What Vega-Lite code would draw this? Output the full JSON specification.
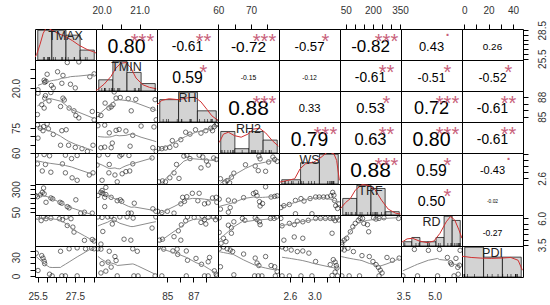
{
"$schema":"https://vega.github.io/schema/vega-lite/v6.json",
"background":"white",
"padding":{"left":10,"top":4,"right":2,"bottom":2},
"columns":8,"spacing":0,"bounds":"flush",
"datasets":{
"cor":[
{"id":"TMAX-TMIN","r":0.80,"txt":"0.80","sig":"***"},
{"id":"TMAX-RH","r":-0.61,"txt":"-0.61","sig":"**"},
{"id":"TMAX-RH2","r":-0.72,"txt":"-0.72","sig":"***"},
{"id":"TMAX-WS","r":-0.57,"txt":"-0.57","sig":"*"},
{"id":"TMAX-TRF","r":-0.82,"txt":"-0.82","sig":"***"},
{"id":"TMAX-RD","r":0.43,"txt":"0.43","sig":"."},
{"id":"TMAX-PDI","r":0.26,"txt":"0.26","sig":""},
{"id":"TMIN-RH","r":0.59,"txt":"0.59","sig":"*"},
{"id":"TMIN-RH2","r":-0.15,"txt":"-0.15","sig":""},
{"id":"TMIN-WS","r":-0.12,"txt":"-0.12","sig":""},
{"id":"TMIN-TRF","r":-0.61,"txt":"-0.61","sig":"**"},
{"id":"TMIN-RD","r":-0.51,"txt":"-0.51","sig":"*"},
{"id":"TMIN-PDI","r":-0.52,"txt":"-0.52","sig":"*"},
{"id":"RH-RH2","r":0.88,"txt":"0.88","sig":"***"},
{"id":"RH-WS","r":0.33,"txt":"0.33","sig":""},
{"id":"RH-TRF","r":0.53,"txt":"0.53","sig":"*"},
{"id":"RH-RD","r":0.72,"txt":"0.72","sig":"***"},
{"id":"RH-PDI","r":-0.61,"txt":"-0.61","sig":"**"},
{"id":"RH2-WS","r":0.79,"txt":"0.79","sig":"***"},
{"id":"RH2-TRF","r":0.63,"txt":"0.63","sig":"**"},
{"id":"RH2-RD","r":0.80,"txt":"0.80","sig":"***"},
{"id":"RH2-PDI","r":-0.61,"txt":"-0.61","sig":"**"},
{"id":"WS-TRF","r":0.88,"txt":"0.88","sig":"***"},
{"id":"WS-RD","r":0.59,"txt":"0.59","sig":"*"},
{"id":"WS-PDI","r":-0.43,"txt":"-0.43","sig":"."},
{"id":"TRF-RD","r":0.50,"txt":"0.50","sig":"*"},
{"id":"TRF-PDI","r":-0.02,"txt":"-0.02","sig":""},
{"id":"RD-PDI","r":-0.27,"txt":"-0.27","sig":""}
],
"hist":[
{"v":"TMAX","b0":25,"b1":26,"c":6},{"v":"TMAX","b0":26,"b1":27,"c":6},{"v":"TMAX","b0":27,"b1":28,"c":5},{"v":"TMAX","b0":28,"b1":29,"c":2},
{"v":"TMIN","b0":19.8,"b1":20.2,"c":3},{"v":"TMIN","b0":20.2,"b1":20.6,"c":8},{"v":"TMIN","b0":20.6,"b1":21.0,"c":5},{"v":"TMIN","b0":21.0,"b1":21.4,"c":2},
{"v":"RH","b0":84,"b1":85.5,"c":6},{"v":"RH","b0":85.5,"b1":87,"c":8},{"v":"RH","b0":87,"b1":88.5,"c":3},
{"v":"RH2","b0":60,"b1":65,"c":5},{"v":"RH2","b0":65,"b1":70,"c":1},{"v":"RH2","b0":70,"b1":75,"c":5},{"v":"RH2","b0":75,"b1":80,"c":3},
{"v":"WS","b0":2.4,"b1":2.75,"c":1},{"v":"WS","b0":2.75,"b1":3.1,"c":5},{"v":"WS","b0":3.1,"b1":3.45,"c":7},
{"v":"TRF","b0":0,"b1":100,"c":5},{"v":"TRF","b0":100,"b1":200,"c":9},{"v":"TRF","b0":200,"b1":300,"c":8},{"v":"TRF","b0":300,"b1":400,"c":1},
{"v":"RD","b0":3.4,"b1":3.8,"c":1},{"v":"RD","b0":3.8,"b1":4.2,"c":2},{"v":"RD","b0":4.2,"b1":4.6,"c":1},{"v":"RD","b0":4.6,"b1":5.0,"c":1},{"v":"RD","b0":5.0,"b1":5.4,"c":2},{"v":"RD","b0":5.4,"b1":5.8,"c":7},{"v":"RD","b0":5.8,"b1":6.2,"c":6},
{"v":"PDI","b0":0,"b1":16,"c":9},{"v":"PDI","b0":16,"b1":32,"c":6},{"v":"PDI","b0":32,"b1":48,"c":6}
],
"dens":[
{"v":"TMAX","x":24.84,"y":0.6},{"v":"TMAX","x":24.96,"y":1.12},{"v":"TMAX","x":25.19,"y":3.09},{"v":"TMAX","x":25.42,"y":5.37},{"v":"TMAX","x":25.65,"y":6.6},{"v":"TMAX","x":26.0,"y":6.04},{"v":"TMAX","x":26.46,"y":5.37},{"v":"TMAX","x":26.99,"y":4.72},{"v":"TMAX","x":27.5,"y":3.88},{"v":"TMAX","x":27.97,"y":2.95},{"v":"TMAX","x":28.54,"y":2.1},{"v":"TMAX","x":29.0,"y":1.63},{"v":"TMAX","x":29.16,"y":1.4},
{"v":"TMIN","x":19.736,"y":0.2},{"v":"TMIN","x":19.78,"y":0.36},{"v":"TMIN","x":19.97,"y":1.87},{"v":"TMIN","x":20.16,"y":3.91},{"v":"TMIN","x":20.30,"y":6.13},{"v":"TMIN","x":20.44,"y":7.47},{"v":"TMIN","x":20.59,"y":7.64},{"v":"TMIN","x":20.73,"y":6.13},{"v":"TMIN","x":20.87,"y":3.47},{"v":"TMIN","x":21.06,"y":1.69},{"v":"TMIN","x":21.25,"y":0.98},{"v":"TMIN","x":21.44,"y":0.62},
{"v":"RH","x":83.82,"y":4.58},{"v":"RH","x":84.21,"y":5.82},{"v":"RH","x":84.79,"y":6.24},{"v":"RH","x":85.52,"y":5.99},{"v":"RH","x":86.25,"y":6.49},{"v":"RH","x":86.83,"y":6.66},{"v":"RH","x":87.32,"y":5.41},{"v":"RH","x":87.81,"y":3.33},{"v":"RH","x":88.19,"y":1.66},{"v":"RH","x":88.68,"y":0.42},
{"v":"RH2","x":59.63,"y":2.45},{"v":"RH2","x":61.14,"y":4.39},{"v":"RH2","x":62.87,"y":4.82},{"v":"RH2","x":65.03,"y":4.03},{"v":"RH2","x":67.41,"y":3.67},{"v":"RH2","x":69.78,"y":4.39},{"v":"RH2","x":71.73,"y":5.54},{"v":"RH2","x":73.89,"y":5.76},{"v":"RH2","x":76.05,"y":4.68},{"v":"RH2","x":78.42,"y":2.88},{"v":"RH2","x":80.58,"y":1.58},
{"v":"WS","x":2.37,"y":0.44},{"v":"WS","x":2.51,"y":0.80},{"v":"WS","x":2.65,"y":1.24},{"v":"WS","x":2.75,"y":3.57},{"v":"WS","x":2.85,"y":4.73},{"v":"WS","x":3.00,"y":5.10},{"v":"WS","x":3.14,"y":6.26},{"v":"WS","x":3.27,"y":7.64},{"v":"WS","x":3.38,"y":7.06},{"v":"WS","x":3.43,"y":5.53},{"v":"WS","x":3.48,"y":0.87},
{"v":"TRF","x":-11.7,"y":1.97},{"v":"TRF","x":22.9,"y":3.74},{"v":"TRF","x":57.4,"y":4.96},{"v":"TRF","x":92,"y":7.49},{"v":"TRF","x":139.5,"y":9.17},{"v":"TRF","x":182.7,"y":8.99},{"v":"TRF","x":230.2,"y":7.77},{"v":"TRF","x":277.8,"y":4.49},{"v":"TRF","x":325.3,"y":1.78},{"v":"TRF","x":377.1,"y":0.56},{"v":"TRF","x":411.7,"y":0.28},
{"v":"RD","x":3.32,"y":0.87},{"v":"RD","x":3.59,"y":1.67},{"v":"RD","x":3.86,"y":1.82},{"v":"RD","x":4.20,"y":1.16},{"v":"RD","x":4.59,"y":0.80},{"v":"RD","x":4.92,"y":1.16},{"v":"RD","x":5.22,"y":2.98},{"v":"RD","x":5.53,"y":5.68},{"v":"RD","x":5.74,"y":6.92},{"v":"RD","x":5.95,"y":6.12},{"v":"RD","x":6.16,"y":3.79},{"v":"RD","x":6.31,"y":1.82},
{"v":"PDI","x":-1.92,"y":6.27},{"v":"PDI","x":5.86,"y":5.90},{"v":"PDI","x":14.15,"y":5.71},{"v":"PDI","x":22.96,"y":5.62},{"v":"PDI","x":31.26,"y":5.71},{"v":"PDI","x":39.55,"y":5.90},{"v":"PDI","x":45.77,"y":5.05},{"v":"PDI","x":49.40,"y":2.06}
],
"pts":[
{"p":"TMIN-TMAX","x":25.52,"y":19.91},{"p":"TMIN-TMAX","x":25.85,"y":20.41},{"p":"TMIN-TMAX","x":25.88,"y":20.30},{"p":"TMIN-TMAX","x":25.95,"y":20.35},{"p":"TMIN-TMAX","x":26.01,"y":20.72},{"p":"TMIN-TMAX","x":26.24,"y":20.14},{"p":"TMIN-TMAX","x":26.34,"y":20.01},{"p":"TMIN-TMAX","x":26.57,"y":20.85},{"p":"TMIN-TMAX","x":26.80,"y":20.25},{"p":"TMIN-TMAX","x":26.86,"y":20.66},{"p":"TMIN-TMAX","x":27.09,"y":21.33},{"p":"TMIN-TMAX","x":27.26,"y":20.20},{"p":"TMIN-TMAX","x":27.52,"y":20.01},{"p":"TMIN-TMAX","x":27.71,"y":21.36},{"p":"TMIN-TMAX","x":28.30,"y":20.59},{"p":"TMIN-TMAX","x":28.53,"y":20.74},
{"p":"RH-TMAX","x":25.52,"y":88.55},{"p":"RH-TMAX","x":25.92,"y":88.18},{"p":"RH-TMAX","x":26.21,"y":88.65},{"p":"RH-TMAX","x":25.88,"y":87.81},{"p":"RH-TMAX","x":26.11,"y":87.39},{"p":"RH-TMAX","x":25.72,"y":86.83},{"p":"RH-TMAX","x":25.85,"y":86.32},{"p":"RH-TMAX","x":26.86,"y":87.81},{"p":"RH-TMAX","x":26.93,"y":87.53},{"p":"RH-TMAX","x":26.73,"y":86.55},{"p":"RH-TMAX","x":27.19,"y":86.32},{"p":"RH-TMAX","x":27.45,"y":85.90},{"p":"RH-TMAX","x":27.55,"y":85.20},{"p":"RH-TMAX","x":27.71,"y":84.83},{"p":"RH-TMAX","x":28.43,"y":85.80},{"p":"RH-TMAX","x":25.49,"y":85.34},{"p":"RH-TMAX","x":28.53,"y":84.55},
{"p":"RH2-TMAX","x":25.49,"y":76.92},{"p":"RH2-TMAX","x":25.65,"y":74.86},{"p":"RH2-TMAX","x":26.01,"y":77.48},{"p":"RH2-TMAX","x":25.79,"y":73.36},{"p":"RH2-TMAX","x":26.08,"y":74.49},{"p":"RH2-TMAX","x":26.80,"y":73.36},{"p":"RH2-TMAX","x":27.03,"y":73.93},{"p":"RH2-TMAX","x":25.52,"y":68.88},{"p":"RH2-TMAX","x":26.73,"y":64.58},{"p":"RH2-TMAX","x":27.16,"y":64.58},{"p":"RH2-TMAX","x":27.52,"y":63.27},{"p":"RH2-TMAX","x":27.88,"y":62.52},{"p":"RH2-TMAX","x":28.17,"y":60.84},{"p":"RH2-TMAX","x":28.47,"y":64.58},{"p":"RH2-TMAX","x":26.34,"y":71.12},{"p":"RH2-TMAX","x":25.82,"y":75.80},
{"p":"WS-TMAX","x":25.43,"y":3.35},{"p":"WS-TMAX","x":25.85,"y":3.37},{"p":"WS-TMAX","x":26.14,"y":3.33},{"p":"WS-TMAX","x":26.99,"y":3.35},{"p":"WS-TMAX","x":27.62,"y":3.34},{"p":"WS-TMAX","x":27.32,"y":3.24},{"p":"WS-TMAX","x":25.49,"y":3.07},{"p":"WS-TMAX","x":25.92,"y":3.05},{"p":"WS-TMAX","x":25.75,"y":2.84},{"p":"WS-TMAX","x":26.21,"y":2.80},{"p":"WS-TMAX","x":26.83,"y":3.07},{"p":"WS-TMAX","x":26.99,"y":2.78},{"p":"WS-TMAX","x":27.35,"y":2.62},{"p":"WS-TMAX","x":27.62,"y":2.54},{"p":"WS-TMAX","x":28.27,"y":2.71},{"p":"WS-TMAX","x":28.47,"y":2.78},
{"p":"TRF-TMAX","x":25.49,"y":217.3},{"p":"TRF-TMAX","x":25.65,"y":237.5},{"p":"TRF-TMAX","x":25.75,"y":264.5},{"p":"TRF-TMAX","x":25.85,"y":247.7},{"p":"TRF-TMAX","x":25.82,"y":311.7},{"p":"TRF-TMAX","x":25.95,"y":156.7},{"p":"TRF-TMAX","x":26.21,"y":203.9},{"p":"TRF-TMAX","x":26.31,"y":193.7},{"p":"TRF-TMAX","x":26.70,"y":156.7},{"p":"TRF-TMAX","x":26.80,"y":146.6},{"p":"TRF-TMAX","x":27.09,"y":109.5},{"p":"TRF-TMAX","x":27.19,"y":96.0},{"p":"TRF-TMAX","x":27.55,"y":183.6},{"p":"TRF-TMAX","x":28.01,"y":48.8},{"p":"TRF-TMAX","x":28.43,"y":38.7},{"p":"TRF-TMAX","x":27.81,"y":38.7},{"p":"TRF-TMAX","x":25.39,"y":230.8},
{"p":"RD-TMAX","x":25.49,"y":6.11},{"p":"RD-TMAX","x":25.69,"y":5.78},{"p":"RD-TMAX","x":25.82,"y":6.16},{"p":"RD-TMAX","x":25.95,"y":5.96},{"p":"RD-TMAX","x":26.21,"y":6.02},{"p":"RD-TMAX","x":26.67,"y":5.96},{"p":"RD-TMAX","x":26.83,"y":5.87},{"p":"RD-TMAX","x":27.03,"y":6.11},{"p":"RD-TMAX","x":27.09,"y":5.32},{"p":"RD-TMAX","x":27.39,"y":5.17},{"p":"RD-TMAX","x":27.45,"y":4.70},{"p":"RD-TMAX","x":28.01,"y":3.92},{"p":"RD-TMAX","x":28.43,"y":4.00},{"p":"RD-TMAX","x":28.53,"y":3.86},{"p":"RD-TMAX","x":27.29,"y":5.96},
{"p":"PDI-TMAX","x":25.43,"y":36.7},{"p":"PDI-TMAX","x":25.72,"y":32.7},{"p":"PDI-TMAX","x":25.79,"y":28.7},{"p":"PDI-TMAX","x":25.85,"y":23.7},{"p":"PDI-TMAX","x":25.88,"y":19.7},{"p":"PDI-TMAX","x":25.52,"y":8.7},{"p":"PDI-TMAX","x":26.14,"y":2.7},{"p":"PDI-TMAX","x":26.73,"y":39.7},{"p":"PDI-TMAX","x":27.19,"y":43.7},{"p":"PDI-TMAX","x":27.62,"y":45.2},{"p":"PDI-TMAX","x":28.07,"y":43.7},{"p":"PDI-TMAX","x":28.40,"y":44.7},{"p":"PDI-TMAX","x":28.53,"y":43.7},{"p":"PDI-TMAX","x":26.28,"y":0},{"p":"PDI-TMAX","x":26.80,"y":0},{"p":"PDI-TMAX","x":26.99,"y":0},{"p":"PDI-TMAX","x":27.62,"y":0},
{"p":"RH-TMIN","x":19.90,"y":85.34},{"p":"RH-TMIN","x":19.98,"y":85.20},{"p":"RH-TMIN","x":20.19,"y":86.32},{"p":"RH-TMIN","x":20.25,"y":86.50},{"p":"RH-TMIN","x":20.30,"y":86.83},{"p":"RH-TMIN","x":20.38,"y":87.81},{"p":"RH-TMIN","x":20.49,"y":87.90},{"p":"RH-TMIN","x":20.70,"y":87.72},{"p":"RH-TMIN","x":20.90,"y":87.62},{"p":"RH-TMIN","x":20.78,"y":85.90},{"p":"RH-TMIN","x":21.35,"y":86.13},{"p":"RH-TMIN","x":21.41,"y":87.58},{"p":"RH-TMIN","x":21.44,"y":84.55},{"p":"RH-TMIN","x":20.09,"y":87.06},{"p":"RH-TMIN","x":20.33,"y":88.74},
{"p":"RH2-TMIN","x":19.90,"y":76.36},{"p":"RH2-TMIN","x":20.08,"y":76.73},{"p":"RH2-TMIN","x":20.20,"y":72.06},{"p":"RH2-TMIN","x":20.38,"y":73.55},{"p":"RH2-TMIN","x":20.46,"y":74.11},{"p":"RH2-TMIN","x":20.64,"y":73.18},{"p":"RH2-TMIN","x":20.82,"y":70.56},{"p":"RH2-TMIN","x":21.04,"y":76.17},{"p":"RH2-TMIN","x":21.38,"y":75.61},{"p":"RH2-TMIN","x":19.98,"y":63.08},{"p":"RH2-TMIN","x":20.08,"y":63.45},{"p":"RH2-TMIN","x":20.25,"y":63.08},{"p":"RH2-TMIN","x":20.75,"y":64.01},{"p":"RH2-TMIN","x":21.35,"y":63.08},{"p":"RH2-TMIN","x":20.28,"y":65.88},{"p":"RH2-TMIN","x":21.44,"y":60.84},
{"p":"WS-TMIN","x":19.93,"y":3.35},{"p":"WS-TMIN","x":20.16,"y":3.37},{"p":"WS-TMIN","x":20.48,"y":3.32},{"p":"WS-TMIN","x":20.53,"y":3.37},{"p":"WS-TMIN","x":20.72,"y":3.34},{"p":"WS-TMIN","x":21.33,"y":3.26},{"p":"WS-TMIN","x":19.88,"y":3.03},{"p":"WS-TMIN","x":20.20,"y":3.05},{"p":"WS-TMIN","x":20.19,"y":2.78},{"p":"WS-TMIN","x":20.35,"y":2.71},{"p":"WS-TMIN","x":20.54,"y":2.75},{"p":"WS-TMIN","x":20.64,"y":2.82},{"p":"WS-TMIN","x":20.74,"y":2.84},{"p":"WS-TMIN","x":20.41,"y":2.49},{"p":"WS-TMIN","x":20.01,"y":2.54},{"p":"WS-TMIN","x":20.82,"y":3.07},
{"p":"TRF-TMIN","x":19.90,"y":230.8},{"p":"TRF-TMIN","x":19.98,"y":264.5},{"p":"TRF-TMIN","x":20.01,"y":284.7},{"p":"TRF-TMIN","x":20.03,"y":254.4},{"p":"TRF-TMIN","x":20.08,"y":210.6},{"p":"TRF-TMIN","x":20.11,"y":240.9},{"p":"TRF-TMIN","x":20.25,"y":210.6},{"p":"TRF-TMIN","x":20.41,"y":173.5},{"p":"TRF-TMIN","x":20.49,"y":183.6},{"p":"TRF-TMIN","x":20.53,"y":166.8},{"p":"TRF-TMIN","x":20.86,"y":146.6},{"p":"TRF-TMIN","x":20.08,"y":109.5},{"p":"TRF-TMIN","x":20.70,"y":38.7},{"p":"TRF-TMIN","x":20.78,"y":38.7},{"p":"TRF-TMIN","x":21.35,"y":85.9},{"p":"TRF-TMIN","x":21.43,"y":59.0},{"p":"TRF-TMIN","x":20.11,"y":318.4},
{"p":"RD-TMIN","x":19.90,"y":6.13},{"p":"RD-TMIN","x":20.01,"y":6.08},{"p":"RD-TMIN","x":20.16,"y":6.13},{"p":"RD-TMIN","x":20.25,"y":6.19},{"p":"RD-TMIN","x":20.33,"y":5.87},{"p":"RD-TMIN","x":20.48,"y":6.13},{"p":"RD-TMIN","x":20.67,"y":6.13},{"p":"RD-TMIN","x":20.83,"y":6.02},{"p":"RD-TMIN","x":20.28,"y":5.46},{"p":"RD-TMIN","x":20.03,"y":4.76},{"p":"RD-TMIN","x":21.33,"y":5.08},{"p":"RD-TMIN","x":20.59,"y":4.03},{"p":"RD-TMIN","x":20.77,"y":3.94},{"p":"RD-TMIN","x":21.43,"y":6.13},{"p":"RD-TMIN","x":19.98,"y":3.57},
{"p":"PDI-TMIN","x":19.90,"y":43.7},{"p":"PDI-TMIN","x":19.98,"y":43.2},{"p":"PDI-TMIN","x":20.20,"y":39.7},{"p":"PDI-TMIN","x":20.35,"y":31.2},{"p":"PDI-TMIN","x":20.01,"y":19.7},{"p":"PDI-TMIN","x":20.17,"y":22.2},{"p":"PDI-TMIN","x":20.38,"y":24.7},{"p":"PDI-TMIN","x":20.25,"y":14.2},{"p":"PDI-TMIN","x":20.11,"y":7.7},{"p":"PDI-TMIN","x":20.82,"y":43.7},{"p":"PDI-TMIN","x":20.94,"y":39.7},{"p":"PDI-TMIN","x":20.41,"y":0},{"p":"PDI-TMIN","x":20.85,"y":0},{"p":"PDI-TMIN","x":20.96,"y":0},{"p":"PDI-TMIN","x":21.41,"y":0},{"p":"PDI-TMIN","x":19.98,"y":4.7},
{"p":"RH2-RH","x":84.31,"y":62.52},{"p":"RH2-RH","x":84.59,"y":62.52},{"p":"RH2-RH","x":84.87,"y":62.89},{"p":"RH2-RH","x":85.20,"y":63.27},{"p":"RH2-RH","x":85.66,"y":64.58},{"p":"RH2-RH","x":85.39,"y":67.38},{"p":"RH2-RH","x":86.04,"y":67.94},{"p":"RH2-RH","x":86.41,"y":72.43},{"p":"RH2-RH","x":86.74,"y":71.31},{"p":"RH2-RH","x":87.16,"y":73.93},{"p":"RH2-RH","x":87.58,"y":71.87},{"p":"RH2-RH","x":87.95,"y":73.36},{"p":"RH2-RH","x":88.32,"y":74.86},{"p":"RH2-RH","x":88.46,"y":73.36},{"p":"RH2-RH","x":88.60,"y":75.80},{"p":"RH2-RH","x":88.74,"y":76.92},{"p":"RH2-RH","x":88.83,"y":77.67},
{"p":"WS-RH","x":84.36,"y":2.49},{"p":"WS-RH","x":84.64,"y":2.52},{"p":"WS-RH","x":84.87,"y":2.49},{"p":"WS-RH","x":85.20,"y":2.62},{"p":"WS-RH","x":85.52,"y":2.78},{"p":"WS-RH","x":85.71,"y":3.05},{"p":"WS-RH","x":86.27,"y":3.32},{"p":"WS-RH","x":86.50,"y":3.35},{"p":"WS-RH","x":86.74,"y":3.24},{"p":"WS-RH","x":87.44,"y":3.35},{"p":"WS-RH","x":87.72,"y":3.29},{"p":"WS-RH","x":88.0,"y":3.16},{"p":"WS-RH","x":88.55,"y":3.26},{"p":"WS-RH","x":88.74,"y":3.21},{"p":"WS-RH","x":88.13,"y":3.03},{"p":"WS-RH","x":87.58,"y":2.94},{"p":"WS-RH","x":85.90,"y":2.60},
{"p":"TRF-RH","x":84.27,"y":59.0},{"p":"TRF-RH","x":84.59,"y":45.5},{"p":"TRF-RH","x":85.01,"y":59.0},{"p":"TRF-RH","x":85.52,"y":38.7},{"p":"TRF-RH","x":86.04,"y":139.8},{"p":"TRF-RH","x":86.18,"y":210.6},{"p":"TRF-RH","x":86.50,"y":217.3},{"p":"TRF-RH","x":86.32,"y":166.8},{"p":"TRF-RH","x":86.92,"y":254.4},{"p":"TRF-RH","x":87.44,"y":254.4},{"p":"TRF-RH","x":87.85,"y":139.8},{"p":"TRF-RH","x":88.13,"y":149.9},{"p":"TRF-RH","x":88.46,"y":203.9},{"p":"TRF-RH","x":88.74,"y":210.6},{"p":"TRF-RH","x":88.79,"y":156.7},{"p":"TRF-RH","x":87.34,"y":173.5},
{"p":"RD-RH","x":84.41,"y":3.94},{"p":"RD-RH","x":84.64,"y":4.03},{"p":"RD-RH","x":85.52,"y":4.27},{"p":"RD-RH","x":85.85,"y":4.82},{"p":"RD-RH","x":86.08,"y":5.38},{"p":"RD-RH","x":86.41,"y":5.76},{"p":"RD-RH","x":86.55,"y":6.13},{"p":"RD-RH","x":87.06,"y":6.08},{"p":"RD-RH","x":87.67,"y":6.19},{"p":"RD-RH","x":87.85,"y":5.87},{"p":"RD-RH","x":88.13,"y":6.08},{"p":"RD-RH","x":88.55,"y":6.13},{"p":"RD-RH","x":88.69,"y":5.87},{"p":"RD-RH","x":88.83,"y":6.13},{"p":"RD-RH","x":87.58,"y":5.61},{"p":"RD-RH","x":87.95,"y":5.46},{"p":"RD-RH","x":86.04,"y":3.94},
{"p":"PDI-RH","x":84.31,"y":45.7},{"p":"PDI-RH","x":84.73,"y":43.2},{"p":"PDI-RH","x":85.43,"y":40.2},{"p":"PDI-RH","x":85.76,"y":43.2},{"p":"PDI-RH","x":85.80,"y":34.7},{"p":"PDI-RH","x":86.46,"y":40.2},{"p":"PDI-RH","x":86.55,"y":25.2},{"p":"PDI-RH","x":87.20,"y":28.2},{"p":"PDI-RH","x":87.62,"y":18.7},{"p":"PDI-RH","x":88.13,"y":22.7},{"p":"PDI-RH","x":88.23,"y":29.7},{"p":"PDI-RH","x":88.60,"y":8.2},{"p":"PDI-RH","x":88.74,"y":2.7},{"p":"PDI-RH","x":84.59,"y":0},{"p":"PDI-RH","x":86.46,"y":0},{"p":"PDI-RH","x":87.85,"y":0},{"p":"PDI-RH","x":88.13,"y":0},{"p":"PDI-RH","x":88.79,"y":0},
{"p":"WS-RH2","x":60.65,"y":2.59},{"p":"WS-RH2","x":61.96,"y":2.48},{"p":"WS-RH2","x":62.71,"y":2.53},{"p":"WS-RH2","x":63.45,"y":2.46},{"p":"WS-RH2","x":64.01,"y":2.64},{"p":"WS-RH2","x":64.76,"y":2.77},{"p":"WS-RH2","x":68.32,"y":3.04},{"p":"WS-RH2","x":71.31,"y":3.00},{"p":"WS-RH2","x":72.24,"y":2.85},{"p":"WS-RH2","x":72.80,"y":3.23},{"p":"WS-RH2","x":74.49,"y":2.83},{"p":"WS-RH2","x":75.42,"y":3.13},{"p":"WS-RH2","x":76.73,"y":3.29},{"p":"WS-RH2","x":77.29,"y":3.21},{"p":"WS-RH2","x":78.04,"y":3.15},{"p":"WS-RH2","x":72.43,"y":3.32},
{"p":"TRF-RH2","x":60.27,"y":190.4},{"p":"TRF-RH2","x":60.65,"y":82.5},{"p":"TRF-RH2","x":63.08,"y":180.3},{"p":"TRF-RH2","x":64.95,"y":170.2},{"p":"TRF-RH2","x":63.64,"y":99.4},{"p":"TRF-RH2","x":63.08,"y":48.8},{"p":"TRF-RH2","x":67.75,"y":207.2},{"p":"TRF-RH2","x":70.75,"y":251.0},{"p":"TRF-RH2","x":71.49,"y":264.5},{"p":"TRF-RH2","x":71.87,"y":227.4},{"p":"TRF-RH2","x":72.62,"y":163.4},{"p":"TRF-RH2","x":73.55,"y":143.2},{"p":"TRF-RH2","x":72.80,"y":116.2},{"p":"TRF-RH2","x":74.49,"y":325.2},{"p":"TRF-RH2","x":76.17,"y":214.0},{"p":"TRF-RH2","x":77.29,"y":220.7},{"p":"TRF-RH2","x":78.04,"y":227.4},
{"p":"RD-RH2","x":60.27,"y":6.05},{"p":"RD-RH2","x":60.27,"y":4.67},{"p":"RD-RH2","x":61.58,"y":4.12},{"p":"RD-RH2","x":63.08,"y":5.35},{"p":"RD-RH2","x":64.01,"y":5.11},{"p":"RD-RH2","x":64.76,"y":5.67},{"p":"RD-RH2","x":67.38,"y":5.99},{"p":"RD-RH2","x":68.13,"y":5.81},{"p":"RD-RH2","x":71.31,"y":6.05},{"p":"RD-RH2","x":71.87,"y":5.87},{"p":"RD-RH2","x":72.62,"y":5.67},{"p":"RD-RH2","x":72.80,"y":5.40},{"p":"RD-RH2","x":75.98,"y":5.99},{"p":"RD-RH2","x":77.10,"y":5.99},{"p":"RD-RH2","x":77.85,"y":6.13},{"p":"RD-RH2","x":60.84,"y":3.65},{"p":"RD-RH2","x":62.33,"y":3.80},{"p":"RD-RH2","x":64.01,"y":4.59},
{"p":"PDI-RH2","x":60.27,"y":43.7},{"p":"PDI-RH2","x":61.58,"y":46.7},{"p":"PDI-RH2","x":62.71,"y":43.7},{"p":"PDI-RH2","x":63.64,"y":41.7},{"p":"PDI-RH2","x":64.39,"y":39.2},{"p":"PDI-RH2","x":67.75,"y":35.2},{"p":"PDI-RH2","x":71.31,"y":28.7},{"p":"PDI-RH2","x":71.87,"y":20.7},{"p":"PDI-RH2","x":72.43,"y":16.7},{"p":"PDI-RH2","x":74.49,"y":31.2},{"p":"PDI-RH2","x":76.17,"y":16.7},{"p":"PDI-RH2","x":77.29,"y":14.7},{"p":"PDI-RH2","x":78.04,"y":7.2},{"p":"PDI-RH2","x":60.65,"y":14.7},{"p":"PDI-RH2","x":64.76,"y":1.7},{"p":"PDI-RH2","x":71.12,"y":0},{"p":"PDI-RH2","x":72.24,"y":0},{"p":"PDI-RH2","x":73.36,"y":0},{"p":"PDI-RH2","x":77.48,"y":0},
{"p":"TRF-WS","x":2.45,"y":99.4},{"p":"TRF-WS","x":2.50,"y":119.6},{"p":"TRF-WS","x":2.59,"y":133.1},{"p":"TRF-WS","x":2.69,"y":176.9},{"p":"TRF-WS","x":2.78,"y":197.1},{"p":"TRF-WS","x":2.83,"y":170.2},{"p":"TRF-WS","x":2.93,"y":197.1},{"p":"TRF-WS","x":3.02,"y":214.0},{"p":"TRF-WS","x":3.08,"y":214.0},{"p":"TRF-WS","x":3.15,"y":214.0},{"p":"TRF-WS","x":3.21,"y":214.0},{"p":"TRF-WS","x":3.27,"y":227.4},{"p":"TRF-WS","x":3.30,"y":264.5},{"p":"TRF-WS","x":3.32,"y":234.2},{"p":"TRF-WS","x":3.33,"y":176.9},{"p":"TRF-WS","x":3.35,"y":119.6},{"p":"TRF-WS","x":3.38,"y":89.3},{"p":"TRF-WS","x":3.40,"y":139.8},{"p":"TRF-WS","x":2.96,"y":32.0},{"p":"TRF-WS","x":2.69,"y":32.0},
{"p":"RD-WS","x":2.45,"y":5.99},{"p":"RD-WS","x":2.47,"y":5.29},{"p":"RD-WS","x":2.59,"y":5.52},{"p":"RD-WS","x":2.67,"y":5.40},{"p":"RD-WS","x":2.72,"y":5.73},{"p":"RD-WS","x":2.81,"y":5.67},{"p":"RD-WS","x":2.90,"y":5.81},{"p":"RD-WS","x":3.02,"y":5.99},{"p":"RD-WS","x":3.10,"y":5.99},{"p":"RD-WS","x":3.18,"y":5.99},{"p":"RD-WS","x":3.26,"y":5.99},{"p":"RD-WS","x":3.31,"y":5.99},{"p":"RD-WS","x":3.34,"y":5.78},{"p":"RD-WS","x":3.37,"y":6.05},{"p":"RD-WS","x":3.40,"y":5.84},{"p":"RD-WS","x":2.67,"y":4.24},{"p":"RD-WS","x":2.81,"y":4.12},{"p":"RD-WS","x":3.29,"y":4.59},{"p":"RD-WS","x":2.50,"y":3.94},
{"p":"PDI-WS","x":2.47,"y":46.7},{"p":"PDI-WS","x":2.53,"y":43.7},{"p":"PDI-WS","x":2.62,"y":41.7},{"p":"PDI-WS","x":2.72,"y":39.2},{"p":"PDI-WS","x":2.81,"y":40.2},{"p":"PDI-WS","x":2.91,"y":36.7},{"p":"PDI-WS","x":3.02,"y":23.2},{"p":"PDI-WS","x":3.26,"y":18.2},{"p":"PDI-WS","x":3.31,"y":26.2},{"p":"PDI-WS","x":3.34,"y":22.2},{"p":"PDI-WS","x":3.36,"y":16.7},{"p":"PDI-WS","x":3.37,"y":12.7},{"p":"PDI-WS","x":3.34,"y":6.2},{"p":"PDI-WS","x":2.47,"y":0},{"p":"PDI-WS","x":2.59,"y":0},{"p":"PDI-WS","x":2.78,"y":0},{"p":"PDI-WS","x":2.96,"y":0},{"p":"PDI-WS","x":3.29,"y":0.7},{"p":"PDI-WS","x":3.38,"y":0},
{"p":"RD-TRF","x":28.6,"y":3.74},{"p":"RD-TRF","x":42.1,"y":3.94},{"p":"RD-TRF","x":55.6,"y":4.12},{"p":"RD-TRF","x":75.8,"y":4.73},{"p":"RD-TRF","x":89.3,"y":5.20},{"p":"RD-TRF","x":102.8,"y":5.52},{"p":"RD-TRF","x":119.6,"y":5.81},{"p":"RD-TRF","x":129.7,"y":5.99},{"p":"RD-TRF","x":143.2,"y":5.99},{"p":"RD-TRF","x":149.9,"y":5.52},{"p":"RD-TRF","x":170.2,"y":5.40},{"p":"RD-TRF","x":203.9,"y":6.05},{"p":"RD-TRF","x":217.3,"y":5.93},{"p":"RD-TRF","x":234.2,"y":5.99},{"p":"RD-TRF","x":261.1,"y":6.05},{"p":"RD-TRF","x":342.0,"y":5.99},{"p":"RD-TRF","x":176.9,"y":4.73},{"p":"RD-TRF","x":28.6,"y":3.54},
{"p":"PDI-TRF","x":25.2,"y":43.7},{"p":"PDI-TRF","x":42.1,"y":41.7},{"p":"PDI-TRF","x":62.3,"y":44.7},{"p":"PDI-TRF","x":92.6,"y":39.2},{"p":"PDI-TRF","x":139.8,"y":32.7},{"p":"PDI-TRF","x":180.3,"y":31.2},{"p":"PDI-TRF","x":200.5,"y":23.2},{"p":"PDI-TRF","x":217.3,"y":18.2},{"p":"PDI-TRF","x":230.8,"y":13.7},{"p":"PDI-TRF","x":240.9,"y":9.2},{"p":"PDI-TRF","x":251.0,"y":4.7},{"p":"PDI-TRF","x":278.0,"y":29.7},{"p":"PDI-TRF","x":308.3,"y":25.2},{"p":"PDI-TRF","x":345.4,"y":28.7},{"p":"PDI-TRF","x":28.6,"y":0},{"p":"PDI-TRF","x":69.1,"y":0},{"p":"PDI-TRF","x":126.3,"y":0},{"p":"PDI-TRF","x":234.2,"y":0},
{"p":"PDI-RD","x":3.48,"y":0},{"p":"PDI-RD","x":4.03,"y":42.7},{"p":"PDI-RD","x":4.70,"y":41.2},{"p":"PDI-RD","x":5.23,"y":42.7},{"p":"PDI-RD","x":5.61,"y":29.7},{"p":"PDI-RD","x":5.76,"y":21.2},{"p":"PDI-RD","x":5.81,"y":18.7},{"p":"PDI-RD","x":6.02,"y":28.2},{"p":"PDI-RD","x":6.11,"y":13.7},{"p":"PDI-RD","x":6.19,"y":17.2},{"p":"PDI-RD","x":4.18,"y":0},{"p":"PDI-RD","x":5.14,"y":0},{"p":"PDI-RD","x":5.93,"y":0},{"p":"PDI-RD","x":6.13,"y":2.7},{"p":"PDI-RD","x":6.22,"y":41.2}
]
},
"concat":[
{"width":61,"height":31,"layer":[
 {"data":{"name":"hist"},"transform":[{"filter":"datum.v=='TMAX'"}],"mark":{"type":"bar","fill":"#d3d3d3","stroke":"black","strokeWidth":0.7,"binSpacing":0},"encoding":{"x":{"field":"b0","type":"quantitative","bin":"binned","scale":{"domain":[24.84,29.16],"nice":false,"zero":false},"axis":null},"x2":{"field":"b1"},"y":{"field":"c","type":"quantitative","scale":{"domain":[0,6.24],"nice":false},"axis":null}}},
 {"data":{"name":"dens"},"transform":[{"filter":"datum.v=='TMAX'"}],"mark":{"type":"line","color":"#d03030","strokeWidth":1,"clip":true},"encoding":{"x":{"field":"x","type":"quantitative","scale":{"domain":[24.84,29.16],"nice":false,"zero":false},"axis":null},"y":{"field":"y","type":"quantitative","scale":{"domain":[0,6.24],"nice":false},"axis":null}}},
 {"data":{"name":"pts"},"transform":[{"filter":"datum.p=='PDI-TMAX'"}],"mark":{"type":"tick","orient":"vertical","size":6,"thickness":0.8,"color":"black","clip":true},"encoding":{"x":{"field":"x","type":"quantitative","scale":{"domain":[24.84,29.16],"nice":false,"zero":false},"axis":null},"y":{"datum":0,"type":"quantitative","scale":{"domain":[0,6.24],"nice":false},"axis":null}}},
 {"data":{"values":[{"lab":"TMAX"}]},"mark":{"type":"text","fontSize":12.5,"dy":-9,"color":"#222"},"encoding":{"text":{"field":"lab"}}}]},
{"width":61,"height":31,"layer":[
 {"data":{"name":"pts"},"transform":[{"filter":"datum.p=='TMIN-TMAX'"}],"mark":{"type":"point","opacity":0},"encoding":{"x":{"field":"y","type":"quantitative","scale":{"domain":[19.85,21.46],"nice":false,"zero":false},"axis":{"orient":"top","title":null,"values":[20,20.5,21],"labelExpr":"datum.value==20?'20.0':datum.value==21?'21.0':''"}},"y":{"field":"x","type":"quantitative","scale":{"domain":[25.36,28.63],"nice":false,"zero":false},"axis":null}}},
 {"data":{"name":"cor"},"transform":[{"filter":"datum.id=='TMAX-TMIN'"},{"calculate":"34.5*(abs(datum.r)+0.3)/(datum.r<0?2.28:1.946)","as":"fs"}],"mark":{"type":"text","color":"black","dy":2},"encoding":{"text":{"field":"txt"},"size":{"field":"fs","type":"quantitative","scale":null}}},
 {"data":{"name":"cor"},"transform":[{"filter":"datum.id=='TMAX-TMIN' && datum.sig!='.'"}],"mark":{"type":"text","fontSize":20,"color":"#c8607a","dx":16,"dy":-3},"encoding":{"text":{"field":"sig"}}}]},
{"width":61,"height":31,"layer":[
 {"data":{"name":"pts"},"transform":[{"filter":"datum.p=='RH-TMAX'"}],"mark":{"type":"point","opacity":0},"encoding":{"x":{"field":"y","type":"quantitative","scale":{"domain":[84.22,88.88],"nice":false,"zero":false},"axis":null},"y":{"field":"x","type":"quantitative","scale":{"domain":[25.36,28.63],"nice":false,"zero":false},"axis":null}}},
 {"data":{"name":"cor"},"transform":[{"filter":"datum.id=='TMAX-RH'"},{"calculate":"34.5*(abs(datum.r)+0.3)/(datum.r<0?2.28:1.946)","as":"fs"}],"mark":{"type":"text","color":"black","dy":2},"encoding":{"text":{"field":"txt"},"size":{"field":"fs","type":"quantitative","scale":null}}},
 {"data":{"name":"cor"},"transform":[{"filter":"datum.id=='TMAX-RH' && datum.sig!='.'"}],"mark":{"type":"text","fontSize":20,"color":"#c8607a","dx":16,"dy":-3},"encoding":{"text":{"field":"sig"}}}]},
{"width":61,"height":31,"layer":[
 {"data":{"name":"pts"},"transform":[{"filter":"datum.p=='RH2-TMAX'"}],"mark":{"type":"point","opacity":0},"encoding":{"x":{"field":"y","type":"quantitative","scale":{"domain":[59.9,78.6],"nice":false,"zero":false},"axis":{"orient":"top","title":null,"values":[60,65,70,75],"labelExpr":"datum.value==60||datum.value==70?datum.label:''"}},"y":{"field":"x","type":"quantitative","scale":{"domain":[25.36,28.63],"nice":false,"zero":false},"axis":null}}},
 {"data":{"name":"cor"},"transform":[{"filter":"datum.id=='TMAX-RH2'"},{"calculate":"34.5*(abs(datum.r)+0.3)/(datum.r<0?2.28:1.946)","as":"fs"}],"mark":{"type":"text","color":"black","dy":2},"encoding":{"text":{"field":"txt"},"size":{"field":"fs","type":"quantitative","scale":null}}},
 {"data":{"name":"cor"},"transform":[{"filter":"datum.id=='TMAX-RH2' && datum.sig!='.'"}],"mark":{"type":"text","fontSize":20,"color":"#c8607a","dx":16,"dy":-3},"encoding":{"text":{"field":"sig"}}}]},
{"width":61,"height":31,"layer":[
 {"data":{"name":"pts"},"transform":[{"filter":"datum.p=='WS-TMAX'"}],"mark":{"type":"point","opacity":0},"encoding":{"x":{"field":"y","type":"quantitative","scale":{"domain":[2.42,3.42],"nice":false,"zero":false},"axis":null},"y":{"field":"x","type":"quantitative","scale":{"domain":[25.36,28.63],"nice":false,"zero":false},"axis":null}}},
 {"data":{"name":"cor"},"transform":[{"filter":"datum.id=='TMAX-WS'"},{"calculate":"34.5*(abs(datum.r)+0.3)/(datum.r<0?2.28:1.946)","as":"fs"}],"mark":{"type":"text","color":"black","dy":2},"encoding":{"text":{"field":"txt"},"size":{"field":"fs","type":"quantitative","scale":null}}},
 {"data":{"name":"cor"},"transform":[{"filter":"datum.id=='TMAX-WS' && datum.sig!='.'"}],"mark":{"type":"text","fontSize":20,"color":"#c8607a","dx":16,"dy":-3},"encoding":{"text":{"field":"sig"}}}]},
{"width":61,"height":31,"layer":[
 {"data":{"name":"pts"},"transform":[{"filter":"datum.p=='TRF-TMAX'"}],"mark":{"type":"point","opacity":0},"encoding":{"x":{"field":"y","type":"quantitative","scale":{"domain":[18.5,355.5],"nice":false,"zero":false},"axis":{"orient":"top","title":null,"values":[50,100,150,200,250,300,350],"labelExpr":"datum.value==50||datum.value==200||datum.value==350?datum.label:''"}},"y":{"field":"x","type":"quantitative","scale":{"domain":[25.36,28.63],"nice":false,"zero":false},"axis":null}}},
 {"data":{"name":"cor"},"transform":[{"filter":"datum.id=='TMAX-TRF'"},{"calculate":"34.5*(abs(datum.r)+0.3)/(datum.r<0?2.28:1.946)","as":"fs"}],"mark":{"type":"text","color":"black","dy":2},"encoding":{"text":{"field":"txt"},"size":{"field":"fs","type":"quantitative","scale":null}}},
 {"data":{"name":"cor"},"transform":[{"filter":"datum.id=='TMAX-TRF' && datum.sig!='.'"}],"mark":{"type":"text","fontSize":20,"color":"#c8607a","dx":16,"dy":-3},"encoding":{"text":{"field":"sig"}}}]},
{"width":61,"height":31,"layer":[
 {"data":{"name":"pts"},"transform":[{"filter":"datum.p=='RD-TMAX'"}],"mark":{"type":"point","opacity":0},"encoding":{"x":{"field":"y","type":"quantitative","scale":{"domain":[3.39,6.31],"nice":false,"zero":false},"axis":null},"y":{"field":"x","type":"quantitative","scale":{"domain":[25.36,28.63],"nice":false,"zero":false},"axis":null}}},
 {"data":{"name":"cor"},"transform":[{"filter":"datum.id=='TMAX-RD'"},{"calculate":"34.5*(abs(datum.r)+0.3)/(datum.r<0?2.28:1.946)","as":"fs"}],"mark":{"type":"text","color":"black","dy":2},"encoding":{"text":{"field":"txt"},"size":{"field":"fs","type":"quantitative","scale":null}}},
 {"data":{"name":"cor"},"transform":[{"filter":"datum.id=='TMAX-RD' && datum.sig=='.'"}],"mark":{"type":"text","fontSize":20,"color":"#c8607a","dx":16,"dy":-15},"encoding":{"text":{"field":"sig"}}}]},
{"width":61,"height":31,"layer":[
 {"data":{"name":"pts"},"transform":[{"filter":"datum.p=='PDI-TMAX'"}],"mark":{"type":"point","opacity":0},"encoding":{"x":{"field":"y","type":"quantitative","scale":{"domain":[-1.8,48.2],"nice":false,"zero":false},"axis":{"orient":"top","title":null,"values":[0,10,20,30,40],"labelExpr":"datum.value==0||datum.value==20||datum.value==40?datum.label:''"}},"y":{"field":"x","type":"quantitative","scale":{"domain":[25.36,28.63],"nice":false,"zero":false},"axis":{"orient":"right","title":null,"values":[25.5,26,26.5,27,27.5,28,28.5],"labelExpr":"datum.value==25.5||datum.value==28.5?format(datum.value,'.1f'):''","labelAngle":270,"labelAlign":"center","labelBaseline":"top"}}}},
 {"data":{"name":"cor"},"transform":[{"filter":"datum.id=='TMAX-PDI'"},{"calculate":"34.5*(abs(datum.r)+0.3)/(datum.r<0?2.28:1.946)","as":"fs"}],"mark":{"type":"text","color":"black","dy":2},"encoding":{"text":{"field":"txt"},"size":{"field":"fs","type":"quantitative","scale":null}}}]},

{"width":61,"height":31,"data":{"name":"pts"},"transform":[{"filter":"datum.p=='TMIN-TMAX'"}],"encoding":{"x":{"field":"x","type":"quantitative","scale":{"domain":[25.36,28.63],"nice":false,"zero":false},"axis":null},"y":{"field":"y","type":"quantitative","scale":{"domain":[19.85,21.46],"nice":false,"zero":false},"axis":{"orient":"left","title":null,"values":[20,20.5,21],"labelExpr":"datum.value==20?'20.0':''","labelAngle":270,"labelAlign":"center","labelBaseline":"bottom"}}},"layer":[{"mark":{"type":"point","shape":"circle","size":20,"color":"black","strokeWidth":0.8,"clip":true}},{"transform":[{"loess":"y","on":"x","bandwidth":0.7}],"mark":{"type":"line","color":"#8c8c8c","strokeWidth":1,"clip":true}}]},
{"width":61,"height":31,"layer":[
 {"data":{"name":"hist"},"transform":[{"filter":"datum.v=='TMIN'"}],"mark":{"type":"bar","fill":"#d3d3d3","stroke":"black","strokeWidth":0.7,"binSpacing":0},"encoding":{"x":{"field":"b0","type":"quantitative","bin":"binned","scale":{"domain":[19.736,21.464],"nice":false,"zero":false},"axis":null},"x2":{"field":"b1"},"y":{"field":"c","type":"quantitative","scale":{"domain":[0,8.32],"nice":false},"axis":null}}},
 {"data":{"name":"dens"},"transform":[{"filter":"datum.v=='TMIN'"}],"mark":{"type":"line","color":"#d03030","strokeWidth":1,"clip":true},"encoding":{"x":{"field":"x","type":"quantitative","scale":{"domain":[19.736,21.464],"nice":false,"zero":false},"axis":null},"y":{"field":"y","type":"quantitative","scale":{"domain":[0,8.32],"nice":false},"axis":null}}},
 {"data":{"name":"pts"},"transform":[{"filter":"datum.p=='PDI-TMIN'"}],"mark":{"type":"tick","orient":"vertical","size":6,"thickness":0.8,"color":"black","clip":true},"encoding":{"x":{"field":"x","type":"quantitative","scale":{"domain":[19.736,21.464],"nice":false,"zero":false},"axis":null},"y":{"datum":0,"type":"quantitative","scale":{"domain":[0,8.32],"nice":false},"axis":null}}},
 {"data":{"values":[{"lab":"TMIN"}]},"mark":{"type":"text","fontSize":12.5,"dy":-9,"color":"#222"},"encoding":{"text":{"field":"lab"}}}]},
{"width":61,"height":31,"layer":[
 {"data":{"name":"pts"},"transform":[{"filter":"datum.p=='RH-TMIN'"}],"mark":{"type":"point","opacity":0},"encoding":{"x":{"field":"y","type":"quantitative","scale":{"domain":[84.22,88.88],"nice":false,"zero":false},"axis":null},"y":{"field":"x","type":"quantitative","scale":{"domain":[19.85,21.46],"nice":false,"zero":false},"axis":null}}},
 {"data":{"name":"cor"},"transform":[{"filter":"datum.id=='TMIN-RH'"},{"calculate":"34.5*(abs(datum.r)+0.3)/(datum.r<0?2.28:1.946)","as":"fs"}],"mark":{"type":"text","color":"black","dy":2},"encoding":{"text":{"field":"txt"},"size":{"field":"fs","type":"quantitative","scale":null}}},
 {"data":{"name":"cor"},"transform":[{"filter":"datum.id=='TMIN-RH' && datum.sig!='.'"}],"mark":{"type":"text","fontSize":20,"color":"#c8607a","dx":16,"dy":-3},"encoding":{"text":{"field":"sig"}}}]},
{"width":61,"height":31,"layer":[
 {"data":{"name":"pts"},"transform":[{"filter":"datum.p=='RH2-TMIN'"}],"mark":{"type":"point","opacity":0},"encoding":{"x":{"field":"y","type":"quantitative","scale":{"domain":[59.9,78.6],"nice":false,"zero":false},"axis":null},"y":{"field":"x","type":"quantitative","scale":{"domain":[19.85,21.46],"nice":false,"zero":false},"axis":null}}},
 {"data":{"name":"cor"},"transform":[{"filter":"datum.id=='TMIN-RH2'"},{"calculate":"34.5*(abs(datum.r)+0.3)/(datum.r<0?2.28:1.946)","as":"fs"}],"mark":{"type":"text","color":"black","dy":2},"encoding":{"text":{"field":"txt"},"size":{"field":"fs","type":"quantitative","scale":null}}}]},
{"width":61,"height":31,"layer":[
 {"data":{"name":"pts"},"transform":[{"filter":"datum.p=='WS-TMIN'"}],"mark":{"type":"point","opacity":0},"encoding":{"x":{"field":"y","type":"quantitative","scale":{"domain":[2.42,3.42],"nice":false,"zero":false},"axis":null},"y":{"field":"x","type":"quantitative","scale":{"domain":[19.85,21.46],"nice":false,"zero":false},"axis":null}}},
 {"data":{"name":"cor"},"transform":[{"filter":"datum.id=='TMIN-WS'"},{"calculate":"34.5*(abs(datum.r)+0.3)/(datum.r<0?2.28:1.946)","as":"fs"}],"mark":{"type":"text","color":"black","dy":2},"encoding":{"text":{"field":"txt"},"size":{"field":"fs","type":"quantitative","scale":null}}}]},
{"width":61,"height":31,"layer":[
 {"data":{"name":"pts"},"transform":[{"filter":"datum.p=='TRF-TMIN'"}],"mark":{"type":"point","opacity":0},"encoding":{"x":{"field":"y","type":"quantitative","scale":{"domain":[18.5,355.5],"nice":false,"zero":false},"axis":null},"y":{"field":"x","type":"quantitative","scale":{"domain":[19.85,21.46],"nice":false,"zero":false},"axis":null}}},
 {"data":{"name":"cor"},"transform":[{"filter":"datum.id=='TMIN-TRF'"},{"calculate":"34.5*(abs(datum.r)+0.3)/(datum.r<0?2.28:1.946)","as":"fs"}],"mark":{"type":"text","color":"black","dy":2},"encoding":{"text":{"field":"txt"},"size":{"field":"fs","type":"quantitative","scale":null}}},
 {"data":{"name":"cor"},"transform":[{"filter":"datum.id=='TMIN-TRF' && datum.sig!='.'"}],"mark":{"type":"text","fontSize":20,"color":"#c8607a","dx":16,"dy":-3},"encoding":{"text":{"field":"sig"}}}]},
{"width":61,"height":31,"layer":[
 {"data":{"name":"pts"},"transform":[{"filter":"datum.p=='RD-TMIN'"}],"mark":{"type":"point","opacity":0},"encoding":{"x":{"field":"y","type":"quantitative","scale":{"domain":[3.39,6.31],"nice":false,"zero":false},"axis":null},"y":{"field":"x","type":"quantitative","scale":{"domain":[19.85,21.46],"nice":false,"zero":false},"axis":null}}},
 {"data":{"name":"cor"},"transform":[{"filter":"datum.id=='TMIN-RD'"},{"calculate":"34.5*(abs(datum.r)+0.3)/(datum.r<0?2.28:1.946)","as":"fs"}],"mark":{"type":"text","color":"black","dy":2},"encoding":{"text":{"field":"txt"},"size":{"field":"fs","type":"quantitative","scale":null}}},
 {"data":{"name":"cor"},"transform":[{"filter":"datum.id=='TMIN-RD' && datum.sig!='.'"}],"mark":{"type":"text","fontSize":20,"color":"#c8607a","dx":16,"dy":-3},"encoding":{"text":{"field":"sig"}}}]},
{"width":61,"height":31,"layer":[
 {"data":{"name":"pts"},"transform":[{"filter":"datum.p=='PDI-TMIN'"}],"mark":{"type":"point","opacity":0},"encoding":{"x":{"field":"y","type":"quantitative","scale":{"domain":[-1.8,48.2],"nice":false,"zero":false},"axis":null},"y":{"field":"x","type":"quantitative","scale":{"domain":[19.85,21.46],"nice":false,"zero":false},"axis":null}}},
 {"data":{"name":"cor"},"transform":[{"filter":"datum.id=='TMIN-PDI'"},{"calculate":"34.5*(abs(datum.r)+0.3)/(datum.r<0?2.28:1.946)","as":"fs"}],"mark":{"type":"text","color":"black","dy":2},"encoding":{"text":{"field":"txt"},"size":{"field":"fs","type":"quantitative","scale":null}}},
 {"data":{"name":"cor"},"transform":[{"filter":"datum.id=='TMIN-PDI' && datum.sig!='.'"}],"mark":{"type":"text","fontSize":20,"color":"#c8607a","dx":16,"dy":-3},"encoding":{"text":{"field":"sig"}}}]},

{"width":61,"height":31,"data":{"name":"pts"},"transform":[{"filter":"datum.p=='RH-TMAX'"}],"encoding":{"x":{"field":"x","type":"quantitative","scale":{"domain":[25.36,28.63],"nice":false,"zero":false},"axis":null},"y":{"field":"y","type":"quantitative","scale":{"domain":[84.22,88.88],"nice":false,"zero":false},"axis":null}},"layer":[{"mark":{"type":"point","shape":"circle","size":20,"color":"black","strokeWidth":0.8,"clip":true}},{"transform":[{"loess":"y","on":"x","bandwidth":0.7}],"mark":{"type":"line","color":"#8c8c8c","strokeWidth":1,"clip":true}}]},
{"width":61,"height":31,"data":{"name":"pts"},"transform":[{"filter":"datum.p=='RH-TMIN'"}],"encoding":{"x":{"field":"x","type":"quantitative","scale":{"domain":[19.85,21.46],"nice":false,"zero":false},"axis":null},"y":{"field":"y","type":"quantitative","scale":{"domain":[84.22,88.88],"nice":false,"zero":false},"axis":null}},"layer":[{"mark":{"type":"point","shape":"circle","size":20,"color":"black","strokeWidth":0.8,"clip":true}},{"transform":[{"loess":"y","on":"x","bandwidth":0.7}],"mark":{"type":"line","color":"#8c8c8c","strokeWidth":1,"clip":true}}]},
{"width":61,"height":31,"layer":[
 {"data":{"name":"hist"},"transform":[{"filter":"datum.v=='RH'"}],"mark":{"type":"bar","fill":"#d3d3d3","stroke":"black","strokeWidth":0.7,"binSpacing":0},"encoding":{"x":{"field":"b0","type":"quantitative","bin":"binned","scale":{"domain":[83.82,88.68],"nice":false,"zero":false},"axis":null},"x2":{"field":"b1"},"y":{"field":"c","type":"quantitative","scale":{"domain":[0,8.32],"nice":false},"axis":null}}},
 {"data":{"name":"dens"},"transform":[{"filter":"datum.v=='RH'"}],"mark":{"type":"line","color":"#d03030","strokeWidth":1,"clip":true},"encoding":{"x":{"field":"x","type":"quantitative","scale":{"domain":[83.82,88.68],"nice":false,"zero":false},"axis":null},"y":{"field":"y","type":"quantitative","scale":{"domain":[0,8.32],"nice":false},"axis":null}}},
 {"data":{"name":"pts"},"transform":[{"filter":"datum.p=='PDI-RH'"}],"mark":{"type":"tick","orient":"vertical","size":6,"thickness":0.8,"color":"black","clip":true},"encoding":{"x":{"field":"x","type":"quantitative","scale":{"domain":[83.82,88.68],"nice":false,"zero":false},"axis":null},"y":{"datum":0,"type":"quantitative","scale":{"domain":[0,8.32],"nice":false},"axis":null}}},
 {"data":{"values":[{"lab":"RH"}]},"mark":{"type":"text","fontSize":12.5,"dy":-9,"color":"#222"},"encoding":{"text":{"field":"lab"}}}]},
{"width":61,"height":31,"layer":[
 {"data":{"name":"pts"},"transform":[{"filter":"datum.p=='RH2-RH'"}],"mark":{"type":"point","opacity":0},"encoding":{"x":{"field":"y","type":"quantitative","scale":{"domain":[59.9,78.6],"nice":false,"zero":false},"axis":null},"y":{"field":"x","type":"quantitative","scale":{"domain":[84.22,88.88],"nice":false,"zero":false},"axis":null}}},
 {"data":{"name":"cor"},"transform":[{"filter":"datum.id=='RH-RH2'"},{"calculate":"34.5*(abs(datum.r)+0.3)/(datum.r<0?2.28:1.946)","as":"fs"}],"mark":{"type":"text","color":"black","dy":2},"encoding":{"text":{"field":"txt"},"size":{"field":"fs","type":"quantitative","scale":null}}},
 {"data":{"name":"cor"},"transform":[{"filter":"datum.id=='RH-RH2' && datum.sig!='.'"}],"mark":{"type":"text","fontSize":20,"color":"#c8607a","dx":16,"dy":-3},"encoding":{"text":{"field":"sig"}}}]},
{"width":61,"height":31,"layer":[
 {"data":{"name":"pts"},"transform":[{"filter":"datum.p=='WS-RH'"}],"mark":{"type":"point","opacity":0},"encoding":{"x":{"field":"y","type":"quantitative","scale":{"domain":[2.42,3.42],"nice":false,"zero":false},"axis":null},"y":{"field":"x","type":"quantitative","scale":{"domain":[84.22,88.88],"nice":false,"zero":false},"axis":null}}},
 {"data":{"name":"cor"},"transform":[{"filter":"datum.id=='RH-WS'"},{"calculate":"34.5*(abs(datum.r)+0.3)/(datum.r<0?2.28:1.946)","as":"fs"}],"mark":{"type":"text","color":"black","dy":2},"encoding":{"text":{"field":"txt"},"size":{"field":"fs","type":"quantitative","scale":null}}}]},
{"width":61,"height":31,"layer":[
 {"data":{"name":"pts"},"transform":[{"filter":"datum.p=='TRF-RH'"}],"mark":{"type":"point","opacity":0},"encoding":{"x":{"field":"y","type":"quantitative","scale":{"domain":[18.5,355.5],"nice":false,"zero":false},"axis":null},"y":{"field":"x","type":"quantitative","scale":{"domain":[84.22,88.88],"nice":false,"zero":false},"axis":null}}},
 {"data":{"name":"cor"},"transform":[{"filter":"datum.id=='RH-TRF'"},{"calculate":"34.5*(abs(datum.r)+0.3)/(datum.r<0?2.28:1.946)","as":"fs"}],"mark":{"type":"text","color":"black","dy":2},"encoding":{"text":{"field":"txt"},"size":{"field":"fs","type":"quantitative","scale":null}}},
 {"data":{"name":"cor"},"transform":[{"filter":"datum.id=='RH-TRF' && datum.sig!='.'"}],"mark":{"type":"text","fontSize":20,"color":"#c8607a","dx":16,"dy":-3},"encoding":{"text":{"field":"sig"}}}]},
{"width":61,"height":31,"layer":[
 {"data":{"name":"pts"},"transform":[{"filter":"datum.p=='RD-RH'"}],"mark":{"type":"point","opacity":0},"encoding":{"x":{"field":"y","type":"quantitative","scale":{"domain":[3.39,6.31],"nice":false,"zero":false},"axis":null},"y":{"field":"x","type":"quantitative","scale":{"domain":[84.22,88.88],"nice":false,"zero":false},"axis":null}}},
 {"data":{"name":"cor"},"transform":[{"filter":"datum.id=='RH-RD'"},{"calculate":"34.5*(abs(datum.r)+0.3)/(datum.r<0?2.28:1.946)","as":"fs"}],"mark":{"type":"text","color":"black","dy":2},"encoding":{"text":{"field":"txt"},"size":{"field":"fs","type":"quantitative","scale":null}}},
 {"data":{"name":"cor"},"transform":[{"filter":"datum.id=='RH-RD' && datum.sig!='.'"}],"mark":{"type":"text","fontSize":20,"color":"#c8607a","dx":16,"dy":-3},"encoding":{"text":{"field":"sig"}}}]},
{"width":61,"height":31,"layer":[
 {"data":{"name":"pts"},"transform":[{"filter":"datum.p=='PDI-RH'"}],"mark":{"type":"point","opacity":0},"encoding":{"x":{"field":"y","type":"quantitative","scale":{"domain":[-1.8,48.2],"nice":false,"zero":false},"axis":null},"y":{"field":"x","type":"quantitative","scale":{"domain":[84.22,88.88],"nice":false,"zero":false},"axis":{"orient":"right","title":null,"values":[85,86,87,88],"labelExpr":"datum.value==85||datum.value==88?datum.label:''","labelAngle":270,"labelAlign":"center","labelBaseline":"top"}}}},
 {"data":{"name":"cor"},"transform":[{"filter":"datum.id=='RH-PDI'"},{"calculate":"34.5*(abs(datum.r)+0.3)/(datum.r<0?2.28:1.946)","as":"fs"}],"mark":{"type":"text","color":"black","dy":2},"encoding":{"text":{"field":"txt"},"size":{"field":"fs","type":"quantitative","scale":null}}},
 {"data":{"name":"cor"},"transform":[{"filter":"datum.id=='RH-PDI' && datum.sig!='.'"}],"mark":{"type":"text","fontSize":20,"color":"#c8607a","dx":16,"dy":-3},"encoding":{"text":{"field":"sig"}}}]},

{"width":61,"height":31,"data":{"name":"pts"},"transform":[{"filter":"datum.p=='RH2-TMAX'"}],"encoding":{"x":{"field":"x","type":"quantitative","scale":{"domain":[25.36,28.63],"nice":false,"zero":false},"axis":null},"y":{"field":"y","type":"quantitative","scale":{"domain":[59.9,78.6],"nice":false,"zero":false},"axis":{"orient":"left","title":null,"values":[60,65,70,75],"labelExpr":"datum.value==60||datum.value==75?datum.label:''","labelAngle":270,"labelAlign":"center","labelBaseline":"bottom"}}},"layer":[{"mark":{"type":"point","shape":"circle","size":20,"color":"black","strokeWidth":0.8,"clip":true}},{"transform":[{"loess":"y","on":"x","bandwidth":0.7}],"mark":{"type":"line","color":"#8c8c8c","strokeWidth":1,"clip":true}}]},
{"width":61,"height":31,"data":{"name":"pts"},"transform":[{"filter":"datum.p=='RH2-TMIN'"}],"encoding":{"x":{"field":"x","type":"quantitative","scale":{"domain":[19.85,21.46],"nice":false,"zero":false},"axis":null},"y":{"field":"y","type":"quantitative","scale":{"domain":[59.9,78.6],"nice":false,"zero":false},"axis":null}},"layer":[{"mark":{"type":"point","shape":"circle","size":20,"color":"black","strokeWidth":0.8,"clip":true}},{"transform":[{"loess":"y","on":"x","bandwidth":0.7}],"mark":{"type":"line","color":"#8c8c8c","strokeWidth":1,"clip":true}}]},
{"width":61,"height":31,"data":{"name":"pts"},"transform":[{"filter":"datum.p=='RH2-RH'"}],"encoding":{"x":{"field":"x","type":"quantitative","scale":{"domain":[84.22,88.88],"nice":false,"zero":false},"axis":null},"y":{"field":"y","type":"quantitative","scale":{"domain":[59.9,78.6],"nice":false,"zero":false},"axis":null}},"layer":[{"mark":{"type":"point","shape":"circle","size":20,"color":"black","strokeWidth":0.8,"clip":true}},{"transform":[{"loess":"y","on":"x","bandwidth":0.7}],"mark":{"type":"line","color":"#8c8c8c","strokeWidth":1,"clip":true}}]},
{"width":61,"height":31,"layer":[
 {"data":{"name":"hist"},"transform":[{"filter":"datum.v=='RH2'"}],"mark":{"type":"bar","fill":"#d3d3d3","stroke":"black","strokeWidth":0.7,"binSpacing":0},"encoding":{"x":{"field":"b0","type":"quantitative","bin":"binned","scale":{"domain":[59.2,80.8],"nice":false,"zero":false},"axis":null},"x2":{"field":"b1"},"y":{"field":"c","type":"quantitative","scale":{"domain":[0,7.2],"nice":false},"axis":null}}},
 {"data":{"name":"dens"},"transform":[{"filter":"datum.v=='RH2'"}],"mark":{"type":"line","color":"#d03030","strokeWidth":1,"clip":true},"encoding":{"x":{"field":"x","type":"quantitative","scale":{"domain":[59.2,80.8],"nice":false,"zero":false},"axis":null},"y":{"field":"y","type":"quantitative","scale":{"domain":[0,7.2],"nice":false},"axis":null}}},
 {"data":{"name":"pts"},"transform":[{"filter":"datum.p=='PDI-RH2'"}],"mark":{"type":"tick","orient":"vertical","size":6,"thickness":0.8,"color":"black","clip":true},"encoding":{"x":{"field":"x","type":"quantitative","scale":{"domain":[59.2,80.8],"nice":false,"zero":false},"axis":null},"y":{"datum":0,"type":"quantitative","scale":{"domain":[0,7.2],"nice":false},"axis":null}}},
 {"data":{"values":[{"lab":"RH2"}]},"mark":{"type":"text","fontSize":12.5,"dy":-9,"color":"#222"},"encoding":{"text":{"field":"lab"}}}]},
{"width":61,"height":31,"layer":[
 {"data":{"name":"pts"},"transform":[{"filter":"datum.p=='WS-RH2'"}],"mark":{"type":"point","opacity":0},"encoding":{"x":{"field":"y","type":"quantitative","scale":{"domain":[2.42,3.42],"nice":false,"zero":false},"axis":null},"y":{"field":"x","type":"quantitative","scale":{"domain":[59.9,78.6],"nice":false,"zero":false},"axis":null}}},
 {"data":{"name":"cor"},"transform":[{"filter":"datum.id=='RH2-WS'"},{"calculate":"34.5*(abs(datum.r)+0.3)/(datum.r<0?2.28:1.946)","as":"fs"}],"mark":{"type":"text","color":"black","dy":2},"encoding":{"text":{"field":"txt"},"size":{"field":"fs","type":"quantitative","scale":null}}},
 {"data":{"name":"cor"},"transform":[{"filter":"datum.id=='RH2-WS' && datum.sig!='.'"}],"mark":{"type":"text","fontSize":20,"color":"#c8607a","dx":16,"dy":-3},"encoding":{"text":{"field":"sig"}}}]},
{"width":61,"height":31,"layer":[
 {"data":{"name":"pts"},"transform":[{"filter":"datum.p=='TRF-RH2'"}],"mark":{"type":"point","opacity":0},"encoding":{"x":{"field":"y","type":"quantitative","scale":{"domain":[18.5,355.5],"nice":false,"zero":false},"axis":null},"y":{"field":"x","type":"quantitative","scale":{"domain":[59.9,78.6],"nice":false,"zero":false},"axis":null}}},
 {"data":{"name":"cor"},"transform":[{"filter":"datum.id=='RH2-TRF'"},{"calculate":"34.5*(abs(datum.r)+0.3)/(datum.r<0?2.28:1.946)","as":"fs"}],"mark":{"type":"text","color":"black","dy":2},"encoding":{"text":{"field":"txt"},"size":{"field":"fs","type":"quantitative","scale":null}}},
 {"data":{"name":"cor"},"transform":[{"filter":"datum.id=='RH2-TRF' && datum.sig!='.'"}],"mark":{"type":"text","fontSize":20,"color":"#c8607a","dx":16,"dy":-3},"encoding":{"text":{"field":"sig"}}}]},
{"width":61,"height":31,"layer":[
 {"data":{"name":"pts"},"transform":[{"filter":"datum.p=='RD-RH2'"}],"mark":{"type":"point","opacity":0},"encoding":{"x":{"field":"y","type":"quantitative","scale":{"domain":[3.39,6.31],"nice":false,"zero":false},"axis":null},"y":{"field":"x","type":"quantitative","scale":{"domain":[59.9,78.6],"nice":false,"zero":false},"axis":null}}},
 {"data":{"name":"cor"},"transform":[{"filter":"datum.id=='RH2-RD'"},{"calculate":"34.5*(abs(datum.r)+0.3)/(datum.r<0?2.28:1.946)","as":"fs"}],"mark":{"type":"text","color":"black","dy":2},"encoding":{"text":{"field":"txt"},"size":{"field":"fs","type":"quantitative","scale":null}}},
 {"data":{"name":"cor"},"transform":[{"filter":"datum.id=='RH2-RD' && datum.sig!='.'"}],"mark":{"type":"text","fontSize":20,"color":"#c8607a","dx":16,"dy":-3},"encoding":{"text":{"field":"sig"}}}]},
{"width":61,"height":31,"layer":[
 {"data":{"name":"pts"},"transform":[{"filter":"datum.p=='PDI-RH2'"}],"mark":{"type":"point","opacity":0},"encoding":{"x":{"field":"y","type":"quantitative","scale":{"domain":[-1.8,48.2],"nice":false,"zero":false},"axis":null},"y":{"field":"x","type":"quantitative","scale":{"domain":[59.9,78.6],"nice":false,"zero":false},"axis":null}}},
 {"data":{"name":"cor"},"transform":[{"filter":"datum.id=='RH2-PDI'"},{"calculate":"34.5*(abs(datum.r)+0.3)/(datum.r<0?2.28:1.946)","as":"fs"}],"mark":{"type":"text","color":"black","dy":2},"encoding":{"text":{"field":"txt"},"size":{"field":"fs","type":"quantitative","scale":null}}},
 {"data":{"name":"cor"},"transform":[{"filter":"datum.id=='RH2-PDI' && datum.sig!='.'"}],"mark":{"type":"text","fontSize":20,"color":"#c8607a","dx":16,"dy":-3},"encoding":{"text":{"field":"sig"}}}]},

{"width":61,"height":31,"data":{"name":"pts"},"transform":[{"filter":"datum.p=='WS-TMAX'"}],"encoding":{"x":{"field":"x","type":"quantitative","scale":{"domain":[25.36,28.63],"nice":false,"zero":false},"axis":null},"y":{"field":"y","type":"quantitative","scale":{"domain":[2.42,3.42],"nice":false,"zero":false},"axis":null}},"layer":[{"mark":{"type":"point","shape":"circle","size":20,"color":"black","strokeWidth":0.8,"clip":true}},{"transform":[{"loess":"y","on":"x","bandwidth":0.7}],"mark":{"type":"line","color":"#8c8c8c","strokeWidth":1,"clip":true}}]},
{"width":61,"height":31,"data":{"name":"pts"},"transform":[{"filter":"datum.p=='WS-TMIN'"}],"encoding":{"x":{"field":"x","type":"quantitative","scale":{"domain":[19.85,21.46],"nice":false,"zero":false},"axis":null},"y":{"field":"y","type":"quantitative","scale":{"domain":[2.42,3.42],"nice":false,"zero":false},"axis":null}},"layer":[{"mark":{"type":"point","shape":"circle","size":20,"color":"black","strokeWidth":0.8,"clip":true}},{"transform":[{"loess":"y","on":"x","bandwidth":0.7}],"mark":{"type":"line","color":"#8c8c8c","strokeWidth":1,"clip":true}}]},
{"width":61,"height":31,"data":{"name":"pts"},"transform":[{"filter":"datum.p=='WS-RH'"}],"encoding":{"x":{"field":"x","type":"quantitative","scale":{"domain":[84.22,88.88],"nice":false,"zero":false},"axis":null},"y":{"field":"y","type":"quantitative","scale":{"domain":[2.42,3.42],"nice":false,"zero":false},"axis":null}},"layer":[{"mark":{"type":"point","shape":"circle","size":20,"color":"black","strokeWidth":0.8,"clip":true}},{"transform":[{"loess":"y","on":"x","bandwidth":0.7}],"mark":{"type":"line","color":"#8c8c8c","strokeWidth":1,"clip":true}}]},
{"width":61,"height":31,"data":{"name":"pts"},"transform":[{"filter":"datum.p=='WS-RH2'"}],"encoding":{"x":{"field":"x","type":"quantitative","scale":{"domain":[59.9,78.6],"nice":false,"zero":false},"axis":null},"y":{"field":"y","type":"quantitative","scale":{"domain":[2.42,3.42],"nice":false,"zero":false},"axis":null}},"layer":[{"mark":{"type":"point","shape":"circle","size":20,"color":"black","strokeWidth":0.8,"clip":true}},{"transform":[{"loess":"y","on":"x","bandwidth":0.7}],"mark":{"type":"line","color":"#8c8c8c","strokeWidth":1,"clip":true}}]},
{"width":61,"height":31,"layer":[
 {"data":{"name":"hist"},"transform":[{"filter":"datum.v=='WS'"}],"mark":{"type":"bar","fill":"#d3d3d3","stroke":"black","strokeWidth":0.7,"binSpacing":0},"encoding":{"x":{"field":"b0","type":"quantitative","bin":"binned","scale":{"domain":[2.358,3.492],"nice":false,"zero":false},"axis":null},"x2":{"field":"b1"},"y":{"field":"c","type":"quantitative","scale":{"domain":[0,7.28],"nice":false},"axis":null}}},
 {"data":{"name":"dens"},"transform":[{"filter":"datum.v=='WS'"}],"mark":{"type":"line","color":"#d03030","strokeWidth":1,"clip":true},"encoding":{"x":{"field":"x","type":"quantitative","scale":{"domain":[2.358,3.492],"nice":false,"zero":false},"axis":null},"y":{"field":"y","type":"quantitative","scale":{"domain":[0,7.28],"nice":false},"axis":null}}},
 {"data":{"name":"pts"},"transform":[{"filter":"datum.p=='PDI-WS'"}],"mark":{"type":"tick","orient":"vertical","size":6,"thickness":0.8,"color":"black","clip":true},"encoding":{"x":{"field":"x","type":"quantitative","scale":{"domain":[2.358,3.492],"nice":false,"zero":false},"axis":null},"y":{"datum":0,"type":"quantitative","scale":{"domain":[0,7.28],"nice":false},"axis":null}}},
 {"data":{"values":[{"lab":"WS"}]},"mark":{"type":"text","fontSize":12.5,"dy":-9,"color":"#222"},"encoding":{"text":{"field":"lab"}}}]},
{"width":61,"height":31,"layer":[
 {"data":{"name":"pts"},"transform":[{"filter":"datum.p=='TRF-WS'"}],"mark":{"type":"point","opacity":0},"encoding":{"x":{"field":"y","type":"quantitative","scale":{"domain":[18.5,355.5],"nice":false,"zero":false},"axis":null},"y":{"field":"x","type":"quantitative","scale":{"domain":[2.42,3.42],"nice":false,"zero":false},"axis":null}}},
 {"data":{"name":"cor"},"transform":[{"filter":"datum.id=='WS-TRF'"},{"calculate":"34.5*(abs(datum.r)+0.3)/(datum.r<0?2.28:1.946)","as":"fs"}],"mark":{"type":"text","color":"black","dy":2},"encoding":{"text":{"field":"txt"},"size":{"field":"fs","type":"quantitative","scale":null}}},
 {"data":{"name":"cor"},"transform":[{"filter":"datum.id=='WS-TRF' && datum.sig!='.'"}],"mark":{"type":"text","fontSize":20,"color":"#c8607a","dx":16,"dy":-3},"encoding":{"text":{"field":"sig"}}}]},
{"width":61,"height":31,"layer":[
 {"data":{"name":"pts"},"transform":[{"filter":"datum.p=='RD-WS'"}],"mark":{"type":"point","opacity":0},"encoding":{"x":{"field":"y","type":"quantitative","scale":{"domain":[3.39,6.31],"nice":false,"zero":false},"axis":null},"y":{"field":"x","type":"quantitative","scale":{"domain":[2.42,3.42],"nice":false,"zero":false},"axis":null}}},
 {"data":{"name":"cor"},"transform":[{"filter":"datum.id=='WS-RD'"},{"calculate":"34.5*(abs(datum.r)+0.3)/(datum.r<0?2.28:1.946)","as":"fs"}],"mark":{"type":"text","color":"black","dy":2},"encoding":{"text":{"field":"txt"},"size":{"field":"fs","type":"quantitative","scale":null}}},
 {"data":{"name":"cor"},"transform":[{"filter":"datum.id=='WS-RD' && datum.sig!='.'"}],"mark":{"type":"text","fontSize":20,"color":"#c8607a","dx":16,"dy":-3},"encoding":{"text":{"field":"sig"}}}]},
{"width":61,"height":31,"layer":[
 {"data":{"name":"pts"},"transform":[{"filter":"datum.p=='PDI-WS'"}],"mark":{"type":"point","opacity":0},"encoding":{"x":{"field":"y","type":"quantitative","scale":{"domain":[-1.8,48.2],"nice":false,"zero":false},"axis":null},"y":{"field":"x","type":"quantitative","scale":{"domain":[2.42,3.42],"nice":false,"zero":false},"axis":{"orient":"right","title":null,"values":[2.6,2.8,3,3.2,3.4],"labelExpr":"datum.value==2.6?'2.6':''","labelAngle":270,"labelAlign":"center","labelBaseline":"top"}}}},
 {"data":{"name":"cor"},"transform":[{"filter":"datum.id=='WS-PDI'"},{"calculate":"34.5*(abs(datum.r)+0.3)/(datum.r<0?2.28:1.946)","as":"fs"}],"mark":{"type":"text","color":"black","dy":2},"encoding":{"text":{"field":"txt"},"size":{"field":"fs","type":"quantitative","scale":null}}},
 {"data":{"name":"cor"},"transform":[{"filter":"datum.id=='WS-PDI' && datum.sig=='.'"}],"mark":{"type":"text","fontSize":20,"color":"#c8607a","dx":16,"dy":-15},"encoding":{"text":{"field":"sig"}}}]},

{"width":61,"height":31,"data":{"name":"pts"},"transform":[{"filter":"datum.p=='TRF-TMAX'"}],"encoding":{"x":{"field":"x","type":"quantitative","scale":{"domain":[25.36,28.63],"nice":false,"zero":false},"axis":null},"y":{"field":"y","type":"quantitative","scale":{"domain":[18.5,355.5],"nice":false,"zero":false},"axis":{"orient":"left","title":null,"values":[50,100,150,200,250,300,350],"labelExpr":"datum.value==50||datum.value==300?datum.label:''","labelAngle":270,"labelAlign":"center","labelBaseline":"bottom"}}},"layer":[{"mark":{"type":"point","shape":"circle","size":20,"color":"black","strokeWidth":0.8,"clip":true}},{"transform":[{"loess":"y","on":"x","bandwidth":0.7}],"mark":{"type":"line","color":"#8c8c8c","strokeWidth":1,"clip":true}}]},
{"width":61,"height":31,"data":{"name":"pts"},"transform":[{"filter":"datum.p=='TRF-TMIN'"}],"encoding":{"x":{"field":"x","type":"quantitative","scale":{"domain":[19.85,21.46],"nice":false,"zero":false},"axis":null},"y":{"field":"y","type":"quantitative","scale":{"domain":[18.5,355.5],"nice":false,"zero":false},"axis":null}},"layer":[{"mark":{"type":"point","shape":"circle","size":20,"color":"black","strokeWidth":0.8,"clip":true}},{"transform":[{"loess":"y","on":"x","bandwidth":0.7}],"mark":{"type":"line","color":"#8c8c8c","strokeWidth":1,"clip":true}}]},
{"width":61,"height":31,"data":{"name":"pts"},"transform":[{"filter":"datum.p=='TRF-RH'"}],"encoding":{"x":{"field":"x","type":"quantitative","scale":{"domain":[84.22,88.88],"nice":false,"zero":false},"axis":null},"y":{"field":"y","type":"quantitative","scale":{"domain":[18.5,355.5],"nice":false,"zero":false},"axis":null}},"layer":[{"mark":{"type":"point","shape":"circle","size":20,"color":"black","strokeWidth":0.8,"clip":true}},{"transform":[{"loess":"y","on":"x","bandwidth":0.7}],"mark":{"type":"line","color":"#8c8c8c","strokeWidth":1,"clip":true}}]},
{"width":61,"height":31,"data":{"name":"pts"},"transform":[{"filter":"datum.p=='TRF-RH2'"}],"encoding":{"x":{"field":"x","type":"quantitative","scale":{"domain":[59.9,78.6],"nice":false,"zero":false},"axis":null},"y":{"field":"y","type":"quantitative","scale":{"domain":[18.5,355.5],"nice":false,"zero":false},"axis":null}},"layer":[{"mark":{"type":"point","shape":"circle","size":20,"color":"black","strokeWidth":0.8,"clip":true}},{"transform":[{"loess":"y","on":"x","bandwidth":0.7}],"mark":{"type":"line","color":"#8c8c8c","strokeWidth":1,"clip":true}}]},
{"width":61,"height":31,"data":{"name":"pts"},"transform":[{"filter":"datum.p=='TRF-WS'"}],"encoding":{"x":{"field":"x","type":"quantitative","scale":{"domain":[2.42,3.42],"nice":false,"zero":false},"axis":null},"y":{"field":"y","type":"quantitative","scale":{"domain":[18.5,355.5],"nice":false,"zero":false},"axis":null}},"layer":[{"mark":{"type":"point","shape":"circle","size":20,"color":"black","strokeWidth":0.8,"clip":true}},{"transform":[{"loess":"y","on":"x","bandwidth":0.7}],"mark":{"type":"line","color":"#8c8c8c","strokeWidth":1,"clip":true}}]},
{"width":61,"height":31,"layer":[
 {"data":{"name":"hist"},"transform":[{"filter":"datum.v=='TRF'"}],"mark":{"type":"bar","fill":"#d3d3d3","stroke":"black","strokeWidth":0.7,"binSpacing":0},"encoding":{"x":{"field":"b0","type":"quantitative","bin":"binned","scale":{"domain":[-16,416],"nice":false,"zero":false},"axis":null},"x2":{"field":"b1"},"y":{"field":"c","type":"quantitative","scale":{"domain":[0,9.36],"nice":false},"axis":null}}},
 {"data":{"name":"dens"},"transform":[{"filter":"datum.v=='TRF'"}],"mark":{"type":"line","color":"#d03030","strokeWidth":1,"clip":true},"encoding":{"x":{"field":"x","type":"quantitative","scale":{"domain":[-16,416],"nice":false,"zero":false},"axis":null},"y":{"field":"y","type":"quantitative","scale":{"domain":[0,9.36],"nice":false},"axis":null}}},
 {"data":{"name":"pts"},"transform":[{"filter":"datum.p=='PDI-TRF'"}],"mark":{"type":"tick","orient":"vertical","size":6,"thickness":0.8,"color":"black","clip":true},"encoding":{"x":{"field":"x","type":"quantitative","scale":{"domain":[-16,416],"nice":false,"zero":false},"axis":null},"y":{"datum":0,"type":"quantitative","scale":{"domain":[0,9.36],"nice":false},"axis":null}}},
 {"data":{"values":[{"lab":"TRF"}]},"mark":{"type":"text","fontSize":12.5,"dy":-9,"color":"#222"},"encoding":{"text":{"field":"lab"}}}]},
{"width":61,"height":31,"layer":[
 {"data":{"name":"pts"},"transform":[{"filter":"datum.p=='RD-TRF'"}],"mark":{"type":"point","opacity":0},"encoding":{"x":{"field":"y","type":"quantitative","scale":{"domain":[3.39,6.31],"nice":false,"zero":false},"axis":null},"y":{"field":"x","type":"quantitative","scale":{"domain":[18.5,355.5],"nice":false,"zero":false},"axis":null}}},
 {"data":{"name":"cor"},"transform":[{"filter":"datum.id=='TRF-RD'"},{"calculate":"34.5*(abs(datum.r)+0.3)/(datum.r<0?2.28:1.946)","as":"fs"}],"mark":{"type":"text","color":"black","dy":2},"encoding":{"text":{"field":"txt"},"size":{"field":"fs","type":"quantitative","scale":null}}},
 {"data":{"name":"cor"},"transform":[{"filter":"datum.id=='TRF-RD' && datum.sig!='.'"}],"mark":{"type":"text","fontSize":20,"color":"#c8607a","dx":16,"dy":-3},"encoding":{"text":{"field":"sig"}}}]},
{"width":61,"height":31,"layer":[
 {"data":{"name":"pts"},"transform":[{"filter":"datum.p=='PDI-TRF'"}],"mark":{"type":"point","opacity":0},"encoding":{"x":{"field":"y","type":"quantitative","scale":{"domain":[-1.8,48.2],"nice":false,"zero":false},"axis":null},"y":{"field":"x","type":"quantitative","scale":{"domain":[18.5,355.5],"nice":false,"zero":false},"axis":null}}},
 {"data":{"name":"cor"},"transform":[{"filter":"datum.id=='TRF-PDI'"},{"calculate":"34.5*(abs(datum.r)+0.3)/(datum.r<0?2.28:1.946)","as":"fs"}],"mark":{"type":"text","color":"black","dy":2},"encoding":{"text":{"field":"txt"},"size":{"field":"fs","type":"quantitative","scale":null}}}]},

{"width":61,"height":31,"data":{"name":"pts"},"transform":[{"filter":"datum.p=='RD-TMAX'"}],"encoding":{"x":{"field":"x","type":"quantitative","scale":{"domain":[25.36,28.63],"nice":false,"zero":false},"axis":null},"y":{"field":"y","type":"quantitative","scale":{"domain":[3.39,6.31],"nice":false,"zero":false},"axis":null}},"layer":[{"mark":{"type":"point","shape":"circle","size":20,"color":"black","strokeWidth":0.8,"clip":true}},{"transform":[{"loess":"y","on":"x","bandwidth":0.7}],"mark":{"type":"line","color":"#8c8c8c","strokeWidth":1,"clip":true}}]},
{"width":61,"height":31,"data":{"name":"pts"},"transform":[{"filter":"datum.p=='RD-TMIN'"}],"encoding":{"x":{"field":"x","type":"quantitative","scale":{"domain":[19.85,21.46],"nice":false,"zero":false},"axis":null},"y":{"field":"y","type":"quantitative","scale":{"domain":[3.39,6.31],"nice":false,"zero":false},"axis":null}},"layer":[{"mark":{"type":"point","shape":"circle","size":20,"color":"black","strokeWidth":0.8,"clip":true}},{"transform":[{"loess":"y","on":"x","bandwidth":0.7}],"mark":{"type":"line","color":"#8c8c8c","strokeWidth":1,"clip":true}}]},
{"width":61,"height":31,"data":{"name":"pts"},"transform":[{"filter":"datum.p=='RD-RH'"}],"encoding":{"x":{"field":"x","type":"quantitative","scale":{"domain":[84.22,88.88],"nice":false,"zero":false},"axis":null},"y":{"field":"y","type":"quantitative","scale":{"domain":[3.39,6.31],"nice":false,"zero":false},"axis":null}},"layer":[{"mark":{"type":"point","shape":"circle","size":20,"color":"black","strokeWidth":0.8,"clip":true}},{"transform":[{"loess":"y","on":"x","bandwidth":0.7}],"mark":{"type":"line","color":"#8c8c8c","strokeWidth":1,"clip":true}}]},
{"width":61,"height":31,"data":{"name":"pts"},"transform":[{"filter":"datum.p=='RD-RH2'"}],"encoding":{"x":{"field":"x","type":"quantitative","scale":{"domain":[59.9,78.6],"nice":false,"zero":false},"axis":null},"y":{"field":"y","type":"quantitative","scale":{"domain":[3.39,6.31],"nice":false,"zero":false},"axis":null}},"layer":[{"mark":{"type":"point","shape":"circle","size":20,"color":"black","strokeWidth":0.8,"clip":true}},{"transform":[{"loess":"y","on":"x","bandwidth":0.7}],"mark":{"type":"line","color":"#8c8c8c","strokeWidth":1,"clip":true}}]},
{"width":61,"height":31,"data":{"name":"pts"},"transform":[{"filter":"datum.p=='RD-WS'"}],"encoding":{"x":{"field":"x","type":"quantitative","scale":{"domain":[2.42,3.42],"nice":false,"zero":false},"axis":null},"y":{"field":"y","type":"quantitative","scale":{"domain":[3.39,6.31],"nice":false,"zero":false},"axis":null}},"layer":[{"mark":{"type":"point","shape":"circle","size":20,"color":"black","strokeWidth":0.8,"clip":true}},{"transform":[{"loess":"y","on":"x","bandwidth":0.7}],"mark":{"type":"line","color":"#8c8c8c","strokeWidth":1,"clip":true}}]},
{"width":61,"height":31,"data":{"name":"pts"},"transform":[{"filter":"datum.p=='RD-TRF'"}],"encoding":{"x":{"field":"x","type":"quantitative","scale":{"domain":[18.5,355.5],"nice":false,"zero":false},"axis":null},"y":{"field":"y","type":"quantitative","scale":{"domain":[3.39,6.31],"nice":false,"zero":false},"axis":null}},"layer":[{"mark":{"type":"point","shape":"circle","size":20,"color":"black","strokeWidth":0.8,"clip":true}},{"transform":[{"loess":"y","on":"x","bandwidth":0.7}],"mark":{"type":"line","color":"#8c8c8c","strokeWidth":1,"clip":true}}]},
{"width":61,"height":31,"layer":[
 {"data":{"name":"hist"},"transform":[{"filter":"datum.v=='RD'"}],"mark":{"type":"bar","fill":"#d3d3d3","stroke":"black","strokeWidth":0.7,"binSpacing":0},"encoding":{"x":{"field":"b0","type":"quantitative","bin":"binned","scale":{"domain":[3.288,6.312],"nice":false,"zero":false},"axis":null},"x2":{"field":"b1"},"y":{"field":"c","type":"quantitative","scale":{"domain":[0,7.28],"nice":false},"axis":null}}},
 {"data":{"name":"dens"},"transform":[{"filter":"datum.v=='RD'"}],"mark":{"type":"line","color":"#d03030","strokeWidth":1,"clip":true},"encoding":{"x":{"field":"x","type":"quantitative","scale":{"domain":[3.288,6.312],"nice":false,"zero":false},"axis":null},"y":{"field":"y","type":"quantitative","scale":{"domain":[0,7.28],"nice":false},"axis":null}}},
 {"data":{"name":"pts"},"transform":[{"filter":"datum.p=='PDI-RD'"}],"mark":{"type":"tick","orient":"vertical","size":6,"thickness":0.8,"color":"black","clip":true},"encoding":{"x":{"field":"x","type":"quantitative","scale":{"domain":[3.288,6.312],"nice":false,"zero":false},"axis":null},"y":{"datum":0,"type":"quantitative","scale":{"domain":[0,7.28],"nice":false},"axis":null}}},
 {"data":{"values":[{"lab":"RD"}]},"mark":{"type":"text","fontSize":12.5,"dy":-9,"color":"#222"},"encoding":{"text":{"field":"lab"}}}]},
{"width":61,"height":31,"layer":[
 {"data":{"name":"pts"},"transform":[{"filter":"datum.p=='PDI-RD'"}],"mark":{"type":"point","opacity":0},"encoding":{"x":{"field":"y","type":"quantitative","scale":{"domain":[-1.8,48.2],"nice":false,"zero":false},"axis":null},"y":{"field":"x","type":"quantitative","scale":{"domain":[3.39,6.31],"nice":false,"zero":false},"axis":{"orient":"right","title":null,"values":[3.5,4,4.5,5,5.5,6],"labelExpr":"datum.value==3.5||datum.value==6?format(datum.value,'.1f'):''","labelAngle":270,"labelAlign":"center","labelBaseline":"top"}}}},
 {"data":{"name":"cor"},"transform":[{"filter":"datum.id=='RD-PDI'"},{"calculate":"34.5*(abs(datum.r)+0.3)/(datum.r<0?2.28:1.946)","as":"fs"}],"mark":{"type":"text","color":"black","dy":2},"encoding":{"text":{"field":"txt"},"size":{"field":"fs","type":"quantitative","scale":null}}}]},

{"width":61,"height":31,"data":{"name":"pts"},"transform":[{"filter":"datum.p=='PDI-TMAX'"}],"encoding":{"x":{"field":"x","type":"quantitative","scale":{"domain":[25.36,28.63],"nice":false,"zero":false},"axis":{"orient":"bottom","title":null,"values":[25.5,26,26.5,27,27.5,28,28.5],"labelExpr":"datum.value==25.5||datum.value==27.5?format(datum.value,'.1f'):''"}},"y":{"field":"y","type":"quantitative","scale":{"domain":[-1.8,48.2],"nice":false,"zero":false},"axis":{"orient":"left","title":null,"values":[0,10,20,30,40],"labelExpr":"datum.value==0||datum.value==30?datum.label:''","labelAngle":270,"labelAlign":"center","labelBaseline":"bottom"}}},"layer":[{"mark":{"type":"point","shape":"circle","size":20,"color":"black","strokeWidth":0.8,"clip":true}},{"transform":[{"loess":"y","on":"x","bandwidth":0.7}],"mark":{"type":"line","color":"#8c8c8c","strokeWidth":1,"clip":true}}]},
{"width":61,"height":31,"data":{"name":"pts"},"transform":[{"filter":"datum.p=='PDI-TMIN'"}],"encoding":{"x":{"field":"x","type":"quantitative","scale":{"domain":[19.85,21.46],"nice":false,"zero":false},"axis":null},"y":{"field":"y","type":"quantitative","scale":{"domain":[-1.8,48.2],"nice":false,"zero":false},"axis":null}},"layer":[{"mark":{"type":"point","shape":"circle","size":20,"color":"black","strokeWidth":0.8,"clip":true}},{"transform":[{"loess":"y","on":"x","bandwidth":0.7}],"mark":{"type":"line","color":"#8c8c8c","strokeWidth":1,"clip":true}}]},
{"width":61,"height":31,"data":{"name":"pts"},"transform":[{"filter":"datum.p=='PDI-RH'"}],"encoding":{"x":{"field":"x","type":"quantitative","scale":{"domain":[84.22,88.88],"nice":false,"zero":false},"axis":{"orient":"bottom","title":null,"values":[85,86,87,88],"labelExpr":"datum.value==85||datum.value==87?datum.label:''"}},"y":{"field":"y","type":"quantitative","scale":{"domain":[-1.8,48.2],"nice":false,"zero":false},"axis":null}},"layer":[{"mark":{"type":"point","shape":"circle","size":20,"color":"black","strokeWidth":0.8,"clip":true}},{"transform":[{"loess":"y","on":"x","bandwidth":0.7}],"mark":{"type":"line","color":"#8c8c8c","strokeWidth":1,"clip":true}}]},
{"width":61,"height":31,"data":{"name":"pts"},"transform":[{"filter":"datum.p=='PDI-RH2'"}],"encoding":{"x":{"field":"x","type":"quantitative","scale":{"domain":[59.9,78.6],"nice":false,"zero":false},"axis":null},"y":{"field":"y","type":"quantitative","scale":{"domain":[-1.8,48.2],"nice":false,"zero":false},"axis":null}},"layer":[{"mark":{"type":"point","shape":"circle","size":20,"color":"black","strokeWidth":0.8,"clip":true}},{"transform":[{"loess":"y","on":"x","bandwidth":0.7}],"mark":{"type":"line","color":"#8c8c8c","strokeWidth":1,"clip":true}}]},
{"width":61,"height":31,"data":{"name":"pts"},"transform":[{"filter":"datum.p=='PDI-WS'"}],"encoding":{"x":{"field":"x","type":"quantitative","scale":{"domain":[2.42,3.42],"nice":false,"zero":false},"axis":{"orient":"bottom","title":null,"values":[2.6,2.8,3,3.2,3.4],"labelExpr":"datum.value==2.6||datum.value==3?format(datum.value,'.1f'):''"}},"y":{"field":"y","type":"quantitative","scale":{"domain":[-1.8,48.2],"nice":false,"zero":false},"axis":null}},"layer":[{"mark":{"type":"point","shape":"circle","size":20,"color":"black","strokeWidth":0.8,"clip":true}},{"transform":[{"loess":"y","on":"x","bandwidth":0.7}],"mark":{"type":"line","color":"#8c8c8c","strokeWidth":1,"clip":true}}]},
{"width":61,"height":31,"data":{"name":"pts"},"transform":[{"filter":"datum.p=='PDI-TRF'"}],"encoding":{"x":{"field":"x","type":"quantitative","scale":{"domain":[18.5,355.5],"nice":false,"zero":false},"axis":null},"y":{"field":"y","type":"quantitative","scale":{"domain":[-1.8,48.2],"nice":false,"zero":false},"axis":null}},"layer":[{"mark":{"type":"point","shape":"circle","size":20,"color":"black","strokeWidth":0.8,"clip":true}},{"transform":[{"loess":"y","on":"x","bandwidth":0.7}],"mark":{"type":"line","color":"#8c8c8c","strokeWidth":1,"clip":true}}]},
{"width":61,"height":31,"data":{"name":"pts"},"transform":[{"filter":"datum.p=='PDI-RD'"}],"encoding":{"x":{"field":"x","type":"quantitative","scale":{"domain":[3.39,6.31],"nice":false,"zero":false},"axis":{"orient":"bottom","title":null,"values":[3.5,4,4.5,5,5.5,6],"labelExpr":"datum.value==3.5||datum.value==5?format(datum.value,'.1f'):''"}},"y":{"field":"y","type":"quantitative","scale":{"domain":[-1.8,48.2],"nice":false,"zero":false},"axis":null}},"layer":[{"mark":{"type":"point","shape":"circle","size":20,"color":"black","strokeWidth":0.8,"clip":true}},{"transform":[{"loess":"y","on":"x","bandwidth":0.7}],"mark":{"type":"line","color":"#8c8c8c","strokeWidth":1,"clip":true}}]},
{"width":61,"height":31,"layer":[
 {"data":{"name":"hist"},"transform":[{"filter":"datum.v=='PDI'"}],"mark":{"type":"bar","fill":"#d3d3d3","stroke":"black","strokeWidth":0.7,"binSpacing":0},"encoding":{"x":{"field":"b0","type":"quantitative","bin":"binned","scale":{"domain":[-1.92,49.92],"nice":false,"zero":false},"axis":null},"x2":{"field":"b1"},"y":{"field":"c","type":"quantitative","scale":{"domain":[0,9.36],"nice":false},"axis":null}}},
 {"data":{"name":"dens"},"transform":[{"filter":"datum.v=='PDI'"}],"mark":{"type":"line","color":"#d03030","strokeWidth":1,"clip":true},"encoding":{"x":{"field":"x","type":"quantitative","scale":{"domain":[-1.92,49.92],"nice":false,"zero":false},"axis":null},"y":{"field":"y","type":"quantitative","scale":{"domain":[0,9.36],"nice":false},"axis":null}}},
 {"data":{"name":"pts"},"transform":[{"filter":"datum.p=='PDI-TMAX'"}],"mark":{"type":"tick","orient":"vertical","size":6,"thickness":0.8,"color":"black","clip":true},"encoding":{"x":{"field":"y","type":"quantitative","scale":{"domain":[-1.92,49.92],"nice":false,"zero":false},"axis":null},"y":{"datum":0,"type":"quantitative","scale":{"domain":[0,9.36],"nice":false},"axis":null}}},
 {"data":{"values":[{"lab":"PDI"}]},"mark":{"type":"text","fontSize":12.5,"dy":-9,"color":"#222"},"encoding":{"text":{"field":"lab"}}}]}
],
"config":{
 "view":{"stroke":"black","strokeWidth":1},
 "font":"Liberation Sans",
 "text":{"font":"Liberation Sans"},
 "axis":{"grid":false,"domain":false,"ticks":true,"tickColor":"black","tickSize":5,"tickWidth":1,"labelFont":"Liberation Sans","labelFontSize":10,"labelColor":"#333333","labelPadding":9,"labelFlush":false,"labelOverlap":false,"labelBound":false}
}
}
